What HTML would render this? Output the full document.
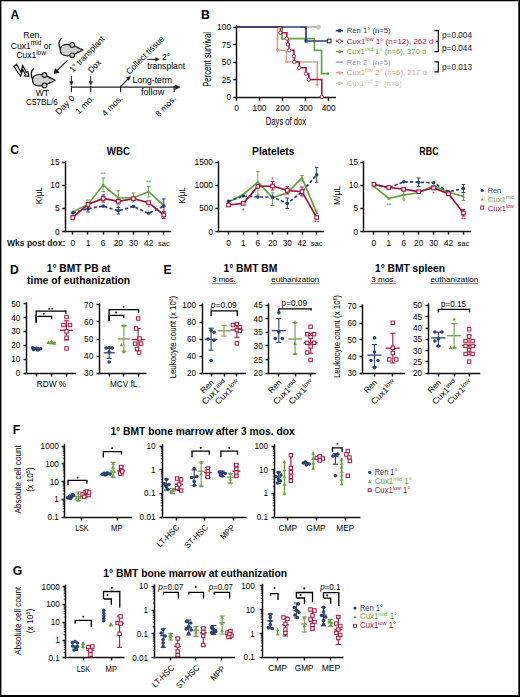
<!DOCTYPE html>
<html><head><meta charset="utf-8"><title>Figure</title>
<style>
html,body{margin:0;padding:0;background:#fff;}
body{width:520px;height:697px;overflow:hidden;}
svg{display:block;font-family:"Liberation Sans", sans-serif;}
</style></head><body>
<svg width="520" height="697" viewBox="0 0 520 697">
<rect x="0" y="0" width="520" height="697" fill="#000" stroke="none" stroke-width="1"/>
<rect x="1.4" y="1.3" width="516.9" height="693.7" fill="#fff" stroke="none" stroke-width="1"/>
<text x="10.6" y="18.5" font-size="12.2" font-weight="bold" fill="#000">A</text>
<text x="32.6" y="38.4" font-size="8.3" text-anchor="middle" textLength="18.5" lengthAdjust="spacingAndGlyphs">Ren,</text>
<text x="10.8" y="48.6" font-size="8.3" textLength="40.6" lengthAdjust="spacingAndGlyphs">Cux1<tspan font-size="6.3" dy="-3.4">mid</tspan><tspan dy="3.4"> or</tspan></text>
<text x="16.4" y="58.2" font-size="8.3" textLength="29.4" lengthAdjust="spacingAndGlyphs">Cux1<tspan font-size="6.3" dy="-3.4">low</tspan></text>
<g transform="translate(60 50.1) scale(1)">
<path d="M1.5,-11.8 C-0.6,-9.8 -2.6,-6.2 0.6,-0.6" stroke="#111" stroke-width="1.3" fill="none"/>
<path d="M0.2,0 C0.2,-3.4 3,-5.6 7,-5.7 C10,-5.8 12.5,-5.1 14.6,-4.1 C17.6,-2.7 20.6,-1.3 22.8,0 C20.6,1.3 17.6,2.7 14.6,4.1 C12.5,5.1 10,5.8 7,5.7 C3,5.6 0.2,3.4 0.2,0 Z" stroke="#151515" stroke-width="1.2" fill="#d0d0d0"/>
<circle cx="12.2" cy="-5.2" r="2.35" fill="#d0d0d0" stroke="#151515" stroke-width="1.1"/>
<circle cx="12.2" cy="5.2" r="2.35" fill="#d0d0d0" stroke="#151515" stroke-width="1.1"/>
<circle cx="17.6" cy="-2" r="0.75" fill="#222" stroke="none" stroke-width="1"/>
<circle cx="17.6" cy="2" r="0.75" fill="#222" stroke="none" stroke-width="1"/>
</g>
<g transform="translate(32.3 80.2) scale(1)">
<path d="M1.5,-11.8 C-0.6,-9.8 -2.6,-6.2 0.6,-0.6" stroke="#111" stroke-width="1.3" fill="none"/>
<path d="M0.2,0 C0.2,-3.4 3,-5.6 7,-5.7 C10,-5.8 12.5,-5.1 14.6,-4.1 C17.6,-2.7 20.6,-1.3 22.8,0 C20.6,1.3 17.6,2.7 14.6,4.1 C12.5,5.1 10,5.8 7,5.7 C3,5.6 0.2,3.4 0.2,0 Z" stroke="#151515" stroke-width="1.2" fill="#d0d0d0"/>
<circle cx="12.2" cy="-5.2" r="2.35" fill="#d0d0d0" stroke="#151515" stroke-width="1.1"/>
<circle cx="12.2" cy="5.2" r="2.35" fill="#d0d0d0" stroke="#151515" stroke-width="1.1"/>
<circle cx="17.6" cy="-2" r="0.75" fill="#222" stroke="none" stroke-width="1"/>
<circle cx="17.6" cy="2" r="0.75" fill="#222" stroke="none" stroke-width="1"/>
</g>
<line x1="67.5" y1="60.3" x2="56.5" y2="71.2" stroke="#111" stroke-width="1.1"/>
<path d="M54.3,73.4 L55.2,68.6 L59.1,72.5 Z" stroke="#111" stroke-width="0.6" fill="#111"/>
<path d="M14.0,66.6 L16.6,64.2 L21.0,72.4 L22.6,65.4 L26.4,72.4 L28.0,71.6 L28.9,76.3 L24.4,75.9 L25.6,74.7 L22.8,69.6 L20.6,76.3 Z" stroke="#111" stroke-width="1.15" fill="#fff" stroke-linejoin="miter"/>
<text x="42.4" y="95.6" font-size="8.3" text-anchor="middle" textLength="13.2" lengthAdjust="spacingAndGlyphs">WT</text>
<text x="41.9" y="104.8" font-size="8.3" text-anchor="middle" textLength="31.6" lengthAdjust="spacingAndGlyphs">C57BL/6</text>
<line x1="71.4" y1="87.2" x2="177.5" y2="87.2" stroke="#222" stroke-width="1.3"/>
<path d="M180.2,87.2 L175.3,84.9 L175.3,89.5 Z" stroke="#222" stroke-width="0.5" fill="#222"/>
<line x1="71.4" y1="85.7" x2="71.4" y2="92" stroke="#222" stroke-width="1.2"/>
<line x1="90.7" y1="85.7" x2="90.7" y2="92" stroke="#222" stroke-width="1.2"/>
<line x1="120.6" y1="85.7" x2="120.6" y2="92" stroke="#222" stroke-width="1.2"/>
<line x1="174.2" y1="85.7" x2="174.2" y2="92" stroke="#222" stroke-width="1.2"/>
<line x1="71.4" y1="76.2" x2="71.4" y2="82.5" stroke="#222" stroke-width="1"/>
<path d="M71.4,85.2 L69.6,81.6 L73.2,81.6 Z" stroke="#222" stroke-width="0.4" fill="#222"/>
<line x1="90.7" y1="76.2" x2="90.7" y2="82.5" stroke="#222" stroke-width="1"/>
<path d="M90.7,85.2 L88.9,81.6 L92.5,81.6 Z" stroke="#222" stroke-width="0.4" fill="#222"/>
<line x1="120.6" y1="86.6" x2="128" y2="79" stroke="#222" stroke-width="1.1"/>
<path d="M130.5,76.2 L126.2,77.6 L129.0,80.4 Z" stroke="#222" stroke-width="0.4" fill="#222"/>
<text x="72.9" y="72.9" font-size="8.6" textLength="46.5" lengthAdjust="spacingAndGlyphs" transform="rotate(-46 72.9 72.9)">1° transplant</text>
<text x="91.4" y="73.6" font-size="8.6" textLength="14.6" lengthAdjust="spacingAndGlyphs" transform="rotate(-46 91.4 73.6)">Dox</text>
<text x="129.4" y="74.9" font-size="8.6" textLength="50.2" lengthAdjust="spacingAndGlyphs" transform="rotate(-45 129.4 74.9)">Collect tissue</text>
<line x1="147.3" y1="59.3" x2="156.3" y2="59.3" stroke="#222" stroke-width="1.1"/>
<path d="M159.5,59.3 L155.6,57.4 L155.6,61.2 Z" stroke="#222" stroke-width="0.4" fill="#222"/>
<text x="162" y="60" font-size="8.6" textLength="8.2" lengthAdjust="spacingAndGlyphs">2°</text>
<text x="147.3" y="68.7" font-size="8.6" textLength="37.8" lengthAdjust="spacingAndGlyphs">transplant</text>
<text x="132.6" y="83" font-size="8.6" textLength="39.4" lengthAdjust="spacingAndGlyphs">Long-term</text>
<text x="140.9" y="94.6" font-size="8.6" textLength="23.4" lengthAdjust="spacingAndGlyphs">follow</text>
<text x="75.3" y="98.6" font-size="8.4" text-anchor="end" textLength="23.5" lengthAdjust="spacingAndGlyphs" transform="rotate(-45 75.3 98.6)">Day 0</text>
<text x="94.6" y="98.8" font-size="8.4" text-anchor="end" textLength="22.5" lengthAdjust="spacingAndGlyphs" transform="rotate(-45 94.6 98.8)">1 mo.</text>
<text x="123.3" y="98.8" font-size="8.4" text-anchor="end" textLength="25.5" lengthAdjust="spacingAndGlyphs" transform="rotate(-45 123.3 98.8)">4 mos.</text>
<text x="176.8" y="99.2" font-size="8.4" text-anchor="end" textLength="25.5" lengthAdjust="spacingAndGlyphs" transform="rotate(-45 176.8 99.2)">8 mos.</text>
<text x="200.9" y="18.7" font-size="12.2" font-weight="bold" fill="#000">B</text>
<line x1="236.5" y1="25" x2="236.5" y2="97.6" stroke="#111111" stroke-width="1.5"/>
<line x1="233.3" y1="27.5" x2="236.5" y2="27.5" stroke="#111111" stroke-width="1.5"/>
<text x="231.1" y="30.02" font-size="8.4" text-anchor="end">100</text>
<line x1="233.3" y1="44.5" x2="236.5" y2="44.5" stroke="#111111" stroke-width="1.5"/>
<text x="231.1" y="47.52" font-size="8.4" text-anchor="end">75</text>
<line x1="233.3" y1="62.5" x2="236.5" y2="62.5" stroke="#111111" stroke-width="1.5"/>
<text x="231.1" y="65.02" font-size="8.4" text-anchor="end">50</text>
<line x1="233.3" y1="79.5" x2="236.5" y2="79.5" stroke="#111111" stroke-width="1.5"/>
<text x="231.1" y="82.52" font-size="8.4" text-anchor="end">25</text>
<line x1="233.3" y1="97.5" x2="236.5" y2="97.5" stroke="#111111" stroke-width="1.5"/>
<text x="231.1" y="100.02" font-size="8.4" text-anchor="end">0</text>
<line x1="235.9" y1="97.5" x2="336" y2="97.5" stroke="#111111" stroke-width="1.5"/>
<line x1="236.5" y1="97.5" x2="236.5" y2="100.7" stroke="#111111" stroke-width="1.5"/>
<line x1="259.5" y1="97.5" x2="259.5" y2="100.7" stroke="#111111" stroke-width="1.5"/>
<line x1="282.5" y1="97.5" x2="282.5" y2="100.7" stroke="#111111" stroke-width="1.5"/>
<line x1="305.5" y1="97.5" x2="305.5" y2="100.7" stroke="#111111" stroke-width="1.5"/>
<line x1="328.5" y1="97.5" x2="328.5" y2="100.7" stroke="#111111" stroke-width="1.5"/>
<text x="236.5" y="111" font-size="8.4" text-anchor="middle">0</text>
<text x="259.55" y="111" font-size="8.4" text-anchor="middle">100</text>
<text x="282.6" y="111" font-size="8.4" text-anchor="middle">200</text>
<text x="305.65" y="111" font-size="8.4" text-anchor="middle">300</text>
<text x="328.7" y="111" font-size="8.4" text-anchor="middle">400</text>
<text x="286" y="125" font-size="10.8" text-anchor="middle" textLength="40.4" lengthAdjust="spacingAndGlyphs">Days of dox</text>
<text x="210.7" y="59.4" font-size="10.8" text-anchor="middle" textLength="54.7" lengthAdjust="spacingAndGlyphs" transform="rotate(-90 210.7 59.4)">Percent survival</text>
<path d="M236.5,27 H277.5 V50.31 H286.4 V62 H317.2 V85.31" stroke="#d8a493" stroke-width="1.6" fill="none"/>
<path d="M300,27 H317.5" stroke="#a8a8b4" stroke-width="1.6" fill="none"/>
<circle cx="318.5" cy="27.3" r="2.2" fill="#c3cfb3" stroke="#c3cfb3" stroke-width="0.5"/>
<path d="M236.5,27 H282.2 V38.69 H314.4 V50.31 H321.6 V73.69 H328.5" stroke="#66a342" stroke-width="1.7" fill="none"/>
<path d="M236.5,27 H280.4 V32.81 H286.8 V38.69 H287.9 V44.5 H289.2 V50.31 H294 V56.19 H294.4 V62 H299.3 V67.81 H306 V73.69 H308.8 V79.5 H321.8 V97" stroke="#a3163f" stroke-width="1.6" fill="none"/>
<path d="M236,27 H306.0 V41 H329.2" stroke="#29426f" stroke-width="1.7" fill="none"/>
<polygon points="277.5,40.53 275.8,37.47 279.2,37.47" fill="#d8a493" stroke="none" stroke-width="1"/>
<polygon points="277.5,52.15 275.8,49.09 279.2,49.09" fill="#d8a493" stroke="none" stroke-width="1"/>
<polygon points="286.4,63.84 284.7,60.78 288.1,60.78" fill="#d8a493" stroke="none" stroke-width="1"/>
<polygon points="317.2,87.15 315.5,84.09 318.9,84.09" fill="#d8a493" stroke="none" stroke-width="1"/>
<polygon points="279.5,30.23 277.9,27.35 281.1,27.35" fill="#d8a493" stroke="none" stroke-width="1"/>
<circle cx="280.4" cy="32.81" r="1.7" fill="#fff" stroke="#a3163f" stroke-width="0.9"/>
<circle cx="286.8" cy="38.69" r="1.7" fill="#fff" stroke="#a3163f" stroke-width="0.9"/>
<circle cx="287.9" cy="44.5" r="1.7" fill="#fff" stroke="#a3163f" stroke-width="0.9"/>
<circle cx="289.2" cy="50.31" r="1.7" fill="#fff" stroke="#a3163f" stroke-width="0.9"/>
<circle cx="294" cy="56.19" r="1.7" fill="#fff" stroke="#a3163f" stroke-width="0.9"/>
<circle cx="294.4" cy="62" r="1.7" fill="#fff" stroke="#a3163f" stroke-width="0.9"/>
<circle cx="299.3" cy="67.81" r="1.7" fill="#fff" stroke="#a3163f" stroke-width="0.9"/>
<circle cx="306" cy="73.69" r="1.7" fill="#fff" stroke="#a3163f" stroke-width="0.9"/>
<circle cx="308.8" cy="79.5" r="1.7" fill="#fff" stroke="#a3163f" stroke-width="0.9"/>
<circle cx="321.8" cy="97" r="1.7" fill="#fff" stroke="#a3163f" stroke-width="0.9"/>
<rect x="304.4" y="39.4" width="3.2" height="3.2" fill="#29426f" stroke="none" stroke-width="1"/>
<rect x="327.4" y="39.2" width="3.6" height="3.6" fill="#fff" stroke="#3a3f55" stroke-width="1.2"/>
<circle cx="282.2" cy="38.69" r="1.2" fill="#66a342" stroke="none" stroke-width="1"/>
<circle cx="328" cy="73.69" r="1.4" fill="#66a342" stroke="none" stroke-width="1"/>
<line x1="335.8" y1="30.7" x2="343.2" y2="30.7" stroke="#29426f" stroke-width="1.4"/>
<rect x="337.8" y="29.1" width="3.2" height="3.2" fill="#29426f" stroke="none" stroke-width="1"/>
<text x="346.8" y="33.4" font-size="7.7" fill="#29426f" textLength="43.8" lengthAdjust="spacingAndGlyphs">Ren 1° (n=5)</text>
<line x1="335.8" y1="41.2" x2="343.2" y2="41.2" stroke="#a3163f" stroke-width="1.4"/>
<path d="M339.5,39 l2.2,2.2 l-2.2,2.2 l-2.2,-2.2 Z" stroke="#a3163f" stroke-width="0.9" fill="#fff"/>
<text x="346.8" y="43.9" font-size="7.7" fill="#a3163f" textLength="86.6" lengthAdjust="spacingAndGlyphs">Cux1<tspan font-size="5.2" dy="-3">low</tspan><tspan dy="3"> 1° (n=12), 262 d</tspan></text>
<line x1="335.8" y1="51.7" x2="343.2" y2="51.7" stroke="#66a342" stroke-width="1.4"/>
<circle cx="339.5" cy="51.7" r="1.5" fill="#66a342" stroke="none" stroke-width="1"/>
<text x="346.8" y="54.4" font-size="7.7" fill="#66a342" textLength="79.5" lengthAdjust="spacingAndGlyphs">Cux1<tspan font-size="5.2" dy="-3">mid</tspan><tspan dy="3"> 1° (n=6), 370 d</tspan></text>
<line x1="335.8" y1="62.2" x2="343.2" y2="62.2" stroke="#9c9cbc" stroke-width="1.4"/>
<text x="346.8" y="64.9" font-size="7.7" fill="#9c9cbc" textLength="43.8" lengthAdjust="spacingAndGlyphs">Ren 2° (n=5)</text>
<line x1="335.8" y1="72.7" x2="343.2" y2="72.7" stroke="#d8a493" stroke-width="1.4"/>
<polygon points="339.5,74.64 337.7,71.4 341.3,71.4" fill="#d8a493" stroke="none" stroke-width="1"/>
<text x="346.8" y="75.4" font-size="7.7" fill="#d8a493" textLength="80" lengthAdjust="spacingAndGlyphs">Cux1<tspan font-size="5.2" dy="-3">low</tspan><tspan dy="3"> 2° (n=6), 217 d</tspan></text>
<line x1="335.8" y1="83.2" x2="343.2" y2="83.2" stroke="#c3cfb3" stroke-width="1.4"/>
<circle cx="339.5" cy="83.2" r="1.8" fill="#c3cfb3" stroke="none" stroke-width="1"/>
<text x="346.8" y="85.9" font-size="7.7" fill="#c3cfb3" textLength="55" lengthAdjust="spacingAndGlyphs">Cux1<tspan font-size="5.2" dy="-3">mid</tspan><tspan dy="3"> 2° (n=8)</tspan></text>
<path d="M434.4,30.6 H438.3 V51.7 H434.4" stroke="#111" stroke-width="1.2" fill="none"/>
<line x1="436" y1="41.3" x2="438.3" y2="41.3" stroke="#111" stroke-width="1.2"/>
<path d="M434.4,61.9 H438.3 V71.9 H434.4" stroke="#111" stroke-width="1.2" fill="none"/>
<text x="442" y="38.3" font-size="8.4" fill="#222" textLength="30" lengthAdjust="spacingAndGlyphs">p=0.004</text>
<text x="442" y="50.8" font-size="8.4" fill="#222" textLength="30" lengthAdjust="spacingAndGlyphs">p=0.044</text>
<text x="442" y="69.6" font-size="8.4" fill="#222" textLength="30" lengthAdjust="spacingAndGlyphs">p=0.013</text>
<text x="10.2" y="153.6" font-size="12.2" font-weight="bold" fill="#000">C</text>
<line x1="65.5" y1="160.9" x2="65.5" y2="232.2" stroke="#111111" stroke-width="1.5"/>
<line x1="62.3" y1="231.5" x2="65.5" y2="231.5" stroke="#111111" stroke-width="1.5"/>
<text x="59.5" y="234.59" font-size="8.3" text-anchor="end">0</text>
<line x1="62.3" y1="208.5" x2="65.5" y2="208.5" stroke="#111111" stroke-width="1.5"/>
<text x="59.5" y="211.49" font-size="8.3" text-anchor="end">5</text>
<line x1="62.3" y1="185.5" x2="65.5" y2="185.5" stroke="#111111" stroke-width="1.5"/>
<text x="59.5" y="188.39" font-size="8.3" text-anchor="end">10</text>
<line x1="62.3" y1="162.5" x2="65.5" y2="162.5" stroke="#111111" stroke-width="1.5"/>
<text x="59.5" y="165.39" font-size="8.3" text-anchor="end">15</text>
<line x1="64.8" y1="231.5" x2="171.32" y2="231.5" stroke="#111111" stroke-width="1.5"/>
<line x1="72.5" y1="231.5" x2="72.5" y2="234.5" stroke="#111111" stroke-width="1.5"/>
<line x1="87.5" y1="231.5" x2="87.5" y2="234.5" stroke="#111111" stroke-width="1.5"/>
<line x1="103.5" y1="231.5" x2="103.5" y2="234.5" stroke="#111111" stroke-width="1.5"/>
<line x1="118.5" y1="231.5" x2="118.5" y2="234.5" stroke="#111111" stroke-width="1.5"/>
<line x1="133.5" y1="231.5" x2="133.5" y2="234.5" stroke="#111111" stroke-width="1.5"/>
<line x1="148.5" y1="231.5" x2="148.5" y2="234.5" stroke="#111111" stroke-width="1.5"/>
<line x1="163.5" y1="231.5" x2="163.5" y2="234.5" stroke="#111111" stroke-width="1.5"/>
<text x="72.8" y="245.6" font-size="8.3" text-anchor="middle">0</text>
<text x="87.97" y="245.6" font-size="8.3" text-anchor="middle">1</text>
<text x="103.14" y="245.6" font-size="8.3" text-anchor="middle">6</text>
<text x="118.31" y="245.6" font-size="8.3" text-anchor="middle">20</text>
<text x="133.48" y="245.6" font-size="8.3" text-anchor="middle">30</text>
<text x="148.65" y="245.6" font-size="8.3" text-anchor="middle">42</text>
<text x="163.82" y="245.6" font-size="7.6" text-anchor="middle">sac</text>
<text x="42" y="195.5" font-size="9" text-anchor="middle" textLength="17.3" lengthAdjust="spacingAndGlyphs" transform="rotate(-90 42 195.5)">K/μL</text>
<text x="118.5" y="154.5" font-size="10.2" text-anchor="middle" font-weight="bold" fill="#000" textLength="23.3" lengthAdjust="spacingAndGlyphs">WBC</text>
<polyline points="72.8,212 87.97,204.4 103.14,185 118.31,198 133.48,197.7 148.65,191.7 163.82,205.5" fill="none" stroke="#66a342" stroke-width="1.7"/>
<line x1="103.14" y1="178" x2="103.14" y2="191.7" stroke="#7a9a5a" stroke-width="1"/>
<line x1="101.34" y1="178" x2="104.94" y2="178" stroke="#7a9a5a" stroke-width="1"/>
<line x1="101.34" y1="191.7" x2="104.94" y2="191.7" stroke="#7a9a5a" stroke-width="1"/>
<line x1="118.31" y1="190.7" x2="118.31" y2="204.4" stroke="#7a9a5a" stroke-width="1"/>
<line x1="116.51" y1="190.7" x2="120.11" y2="190.7" stroke="#7a9a5a" stroke-width="1"/>
<line x1="116.51" y1="204.4" x2="120.11" y2="204.4" stroke="#7a9a5a" stroke-width="1"/>
<line x1="148.65" y1="186.4" x2="148.65" y2="197" stroke="#7a9a5a" stroke-width="1"/>
<line x1="146.85" y1="186.4" x2="150.45" y2="186.4" stroke="#7a9a5a" stroke-width="1"/>
<line x1="146.85" y1="197" x2="150.45" y2="197" stroke="#7a9a5a" stroke-width="1"/>
<line x1="87.97" y1="200" x2="87.97" y2="209" stroke="#7a9a5a" stroke-width="1"/>
<line x1="86.17" y1="200" x2="89.77" y2="200" stroke="#7a9a5a" stroke-width="1"/>
<line x1="86.17" y1="209" x2="89.77" y2="209" stroke="#7a9a5a" stroke-width="1"/>
<line x1="133.48" y1="193" x2="133.48" y2="202" stroke="#7a9a5a" stroke-width="1"/>
<line x1="131.68" y1="193" x2="135.28" y2="193" stroke="#7a9a5a" stroke-width="1"/>
<line x1="131.68" y1="202" x2="135.28" y2="202" stroke="#7a9a5a" stroke-width="1"/>
<polygon points="72.8,210.16 71.1,213.22 74.5,213.22" fill="#66a342" stroke="none" stroke-width="1"/>
<polygon points="87.97,202.56 86.27,205.62 89.67,205.62" fill="#66a342" stroke="none" stroke-width="1"/>
<polygon points="103.14,183.16 101.44,186.22 104.84,186.22" fill="#66a342" stroke="none" stroke-width="1"/>
<polygon points="118.31,196.16 116.61,199.22 120.01,199.22" fill="#66a342" stroke="none" stroke-width="1"/>
<polygon points="133.48,195.86 131.78,198.92 135.18,198.92" fill="#66a342" stroke="none" stroke-width="1"/>
<polygon points="148.65,189.86 146.95,192.92 150.35,192.92" fill="#66a342" stroke="none" stroke-width="1"/>
<polygon points="163.82,203.66 162.12,206.72 165.52,206.72" fill="#66a342" stroke="none" stroke-width="1"/>
<text x="103.14" y="177.3" font-size="6.5" text-anchor="middle" fill="#66a342">**</text>
<text x="148.65" y="184.7" font-size="6.5" text-anchor="middle" fill="#66a342">**</text>
<polyline points="72.8,212.9 87.97,208.7 103.14,206.1 118.31,210.8 133.48,206.5 148.65,213.3 163.82,206.1" fill="none" stroke="#29426f" stroke-width="1.7" stroke-dasharray="3.2,2.2"/>
<line x1="163.82" y1="199" x2="163.82" y2="212" stroke="#29426f" stroke-width="1"/>
<line x1="162.02" y1="199" x2="165.62" y2="199" stroke="#29426f" stroke-width="1"/>
<line x1="162.02" y1="212" x2="165.62" y2="212" stroke="#29426f" stroke-width="1"/>
<line x1="87.97" y1="205.5" x2="87.97" y2="212" stroke="#29426f" stroke-width="1"/>
<line x1="86.17" y1="205.5" x2="89.77" y2="205.5" stroke="#29426f" stroke-width="1"/>
<line x1="86.17" y1="212" x2="89.77" y2="212" stroke="#29426f" stroke-width="1"/>
<line x1="118.31" y1="207.5" x2="118.31" y2="214" stroke="#29426f" stroke-width="1"/>
<line x1="116.51" y1="207.5" x2="120.11" y2="207.5" stroke="#29426f" stroke-width="1"/>
<line x1="116.51" y1="214" x2="120.11" y2="214" stroke="#29426f" stroke-width="1"/>
<circle cx="72.8" cy="212.9" r="1.8" fill="#29426f" stroke="none" stroke-width="1"/>
<circle cx="87.97" cy="208.7" r="1.8" fill="#29426f" stroke="none" stroke-width="1"/>
<circle cx="103.14" cy="206.1" r="1.8" fill="#29426f" stroke="none" stroke-width="1"/>
<circle cx="118.31" cy="210.8" r="1.8" fill="#29426f" stroke="none" stroke-width="1"/>
<circle cx="133.48" cy="206.5" r="1.8" fill="#29426f" stroke="none" stroke-width="1"/>
<circle cx="148.65" cy="213.3" r="1.8" fill="#29426f" stroke="none" stroke-width="1"/>
<circle cx="163.82" cy="206.1" r="1.8" fill="#29426f" stroke="none" stroke-width="1"/>
<polyline points="72.8,217.5 87.97,204.4 103.14,198.5 118.31,201.3 133.48,198.7 148.65,202.7 163.82,215" fill="none" stroke="#a3163f" stroke-width="1.7"/>
<line x1="103.14" y1="195" x2="103.14" y2="202" stroke="#a3163f" stroke-width="1"/>
<line x1="101.34" y1="195" x2="104.94" y2="195" stroke="#a3163f" stroke-width="1"/>
<line x1="101.34" y1="202" x2="104.94" y2="202" stroke="#a3163f" stroke-width="1"/>
<line x1="163.82" y1="211.5" x2="163.82" y2="218.5" stroke="#a3163f" stroke-width="1"/>
<line x1="162.02" y1="211.5" x2="165.62" y2="211.5" stroke="#a3163f" stroke-width="1"/>
<line x1="162.02" y1="218.5" x2="165.62" y2="218.5" stroke="#a3163f" stroke-width="1"/>
<rect x="71" y="215.7" width="3.6" height="3.6" fill="#fff" stroke="#a3163f" stroke-width="1.1"/>
<rect x="86.17" y="202.6" width="3.6" height="3.6" fill="#fff" stroke="#a3163f" stroke-width="1.1"/>
<rect x="101.34" y="196.7" width="3.6" height="3.6" fill="#fff" stroke="#a3163f" stroke-width="1.1"/>
<rect x="116.51" y="199.5" width="3.6" height="3.6" fill="#fff" stroke="#a3163f" stroke-width="1.1"/>
<rect x="131.68" y="196.9" width="3.6" height="3.6" fill="#fff" stroke="#a3163f" stroke-width="1.1"/>
<rect x="146.85" y="200.9" width="3.6" height="3.6" fill="#fff" stroke="#a3163f" stroke-width="1.1"/>
<rect x="162.02" y="213.2" width="3.6" height="3.6" fill="#fff" stroke="#a3163f" stroke-width="1.1"/>
<text x="118.31" y="210" font-size="6.5" text-anchor="middle" fill="#a3163f">*</text>
<text x="148.65" y="210" font-size="6.5" text-anchor="middle" fill="#a3163f">*</text>
<text x="7" y="245.6" font-size="9.4" font-weight="bold" fill="#111" textLength="58.3" lengthAdjust="spacingAndGlyphs">Wks post dox:</text>
<line x1="218.5" y1="160.9" x2="218.5" y2="232.2" stroke="#111111" stroke-width="1.5"/>
<line x1="215.3" y1="231.5" x2="218.5" y2="231.5" stroke="#111111" stroke-width="1.5"/>
<text x="213" y="234.59" font-size="8.3" text-anchor="end">0</text>
<line x1="215.3" y1="208.5" x2="218.5" y2="208.5" stroke="#111111" stroke-width="1.5"/>
<text x="213" y="211.49" font-size="8.3" text-anchor="end">500</text>
<line x1="215.3" y1="185.5" x2="218.5" y2="185.5" stroke="#111111" stroke-width="1.5"/>
<text x="213" y="188.39" font-size="8.3" text-anchor="end">1000</text>
<line x1="215.3" y1="162.5" x2="218.5" y2="162.5" stroke="#111111" stroke-width="1.5"/>
<text x="213" y="165.39" font-size="8.3" text-anchor="end">1500</text>
<line x1="218.3" y1="231.5" x2="324.2" y2="231.5" stroke="#111111" stroke-width="1.5"/>
<line x1="228.5" y1="231.5" x2="228.5" y2="234.5" stroke="#111111" stroke-width="1.5"/>
<line x1="243.5" y1="231.5" x2="243.5" y2="234.5" stroke="#111111" stroke-width="1.5"/>
<line x1="257.5" y1="231.5" x2="257.5" y2="234.5" stroke="#111111" stroke-width="1.5"/>
<line x1="272.5" y1="231.5" x2="272.5" y2="234.5" stroke="#111111" stroke-width="1.5"/>
<line x1="287.5" y1="231.5" x2="287.5" y2="234.5" stroke="#111111" stroke-width="1.5"/>
<line x1="302.5" y1="231.5" x2="302.5" y2="234.5" stroke="#111111" stroke-width="1.5"/>
<line x1="316.5" y1="231.5" x2="316.5" y2="234.5" stroke="#111111" stroke-width="1.5"/>
<text x="228.5" y="245.6" font-size="8.3" text-anchor="middle">0</text>
<text x="243.2" y="245.6" font-size="8.3" text-anchor="middle">1</text>
<text x="257.9" y="245.6" font-size="8.3" text-anchor="middle">6</text>
<text x="272.6" y="245.6" font-size="8.3" text-anchor="middle">20</text>
<text x="287.3" y="245.6" font-size="8.3" text-anchor="middle">30</text>
<text x="302" y="245.6" font-size="8.3" text-anchor="middle">42</text>
<text x="316.7" y="245.6" font-size="7.6" text-anchor="middle">sac</text>
<text x="185" y="195.5" font-size="9" text-anchor="middle" textLength="16.5" lengthAdjust="spacingAndGlyphs" transform="rotate(-90 185 195.5)">K/μL</text>
<text x="273.2" y="154.5" font-size="10.2" text-anchor="middle" font-weight="bold" fill="#000" textLength="42.3" lengthAdjust="spacingAndGlyphs">Platelets</text>
<polyline points="228.5,202.3 243.2,194.5 257.9,182.2 272.6,197.7 287.3,192.8 302,178 316.7,212.9" fill="none" stroke="#66a342" stroke-width="1.7"/>
<line x1="257.9" y1="171.6" x2="257.9" y2="195" stroke="#7a9a5a" stroke-width="1"/>
<line x1="256.1" y1="171.6" x2="259.7" y2="171.6" stroke="#7a9a5a" stroke-width="1"/>
<line x1="256.1" y1="195" x2="259.7" y2="195" stroke="#7a9a5a" stroke-width="1"/>
<line x1="272.6" y1="192.8" x2="272.6" y2="205.5" stroke="#7a9a5a" stroke-width="1"/>
<line x1="270.8" y1="192.8" x2="274.4" y2="192.8" stroke="#7a9a5a" stroke-width="1"/>
<line x1="270.8" y1="205.5" x2="274.4" y2="205.5" stroke="#7a9a5a" stroke-width="1"/>
<line x1="302" y1="175.5" x2="302" y2="181" stroke="#7a9a5a" stroke-width="1"/>
<line x1="300.2" y1="175.5" x2="303.8" y2="175.5" stroke="#7a9a5a" stroke-width="1"/>
<line x1="300.2" y1="181" x2="303.8" y2="181" stroke="#7a9a5a" stroke-width="1"/>
<polygon points="228.5,200.46 226.8,203.52 230.2,203.52" fill="#66a342" stroke="none" stroke-width="1"/>
<polygon points="243.2,192.66 241.5,195.72 244.9,195.72" fill="#66a342" stroke="none" stroke-width="1"/>
<polygon points="257.9,180.36 256.2,183.42 259.6,183.42" fill="#66a342" stroke="none" stroke-width="1"/>
<polygon points="272.6,195.86 270.9,198.92 274.3,198.92" fill="#66a342" stroke="none" stroke-width="1"/>
<polygon points="287.3,190.96 285.6,194.02 289,194.02" fill="#66a342" stroke="none" stroke-width="1"/>
<polygon points="302,176.16 300.3,179.22 303.7,179.22" fill="#66a342" stroke="none" stroke-width="1"/>
<polygon points="316.7,211.06 315,214.12 318.4,214.12" fill="#66a342" stroke="none" stroke-width="1"/>
<text x="316.7" y="214" font-size="6.5" text-anchor="middle" fill="#66a342">*</text>
<polyline points="228.5,201.3 243.2,196 257.9,197 272.6,197 287.3,203.4 302,191.7 316.7,174.8" fill="none" stroke="#29426f" stroke-width="1.7" stroke-dasharray="3.2,2.2"/>
<line x1="316.7" y1="167.4" x2="316.7" y2="182.2" stroke="#29426f" stroke-width="1"/>
<line x1="314.9" y1="167.4" x2="318.5" y2="167.4" stroke="#29426f" stroke-width="1"/>
<line x1="314.9" y1="182.2" x2="318.5" y2="182.2" stroke="#29426f" stroke-width="1"/>
<line x1="287.3" y1="198" x2="287.3" y2="208.5" stroke="#29426f" stroke-width="1"/>
<line x1="285.5" y1="198" x2="289.1" y2="198" stroke="#29426f" stroke-width="1"/>
<line x1="285.5" y1="208.5" x2="289.1" y2="208.5" stroke="#29426f" stroke-width="1"/>
<circle cx="228.5" cy="201.3" r="1.8" fill="#29426f" stroke="none" stroke-width="1"/>
<circle cx="243.2" cy="196" r="1.8" fill="#29426f" stroke="none" stroke-width="1"/>
<circle cx="257.9" cy="197" r="1.8" fill="#29426f" stroke="none" stroke-width="1"/>
<circle cx="272.6" cy="197" r="1.8" fill="#29426f" stroke="none" stroke-width="1"/>
<circle cx="287.3" cy="203.4" r="1.8" fill="#29426f" stroke="none" stroke-width="1"/>
<circle cx="302" cy="191.7" r="1.8" fill="#29426f" stroke="none" stroke-width="1"/>
<circle cx="316.7" cy="174.8" r="1.8" fill="#29426f" stroke="none" stroke-width="1"/>
<polyline points="228.5,205 243.2,203.4 257.9,186.4 272.6,186 287.3,190.3 302,191.7 316.7,217.5" fill="none" stroke="#a3163f" stroke-width="1.7"/>
<line x1="272.6" y1="181.5" x2="272.6" y2="190" stroke="#a3163f" stroke-width="1"/>
<line x1="270.8" y1="181.5" x2="274.4" y2="181.5" stroke="#a3163f" stroke-width="1"/>
<line x1="270.8" y1="190" x2="274.4" y2="190" stroke="#a3163f" stroke-width="1"/>
<line x1="287.3" y1="186.5" x2="287.3" y2="194" stroke="#a3163f" stroke-width="1"/>
<line x1="285.5" y1="186.5" x2="289.1" y2="186.5" stroke="#a3163f" stroke-width="1"/>
<line x1="285.5" y1="194" x2="289.1" y2="194" stroke="#a3163f" stroke-width="1"/>
<line x1="302" y1="187" x2="302" y2="196" stroke="#a3163f" stroke-width="1"/>
<line x1="300.2" y1="187" x2="303.8" y2="187" stroke="#a3163f" stroke-width="1"/>
<line x1="300.2" y1="196" x2="303.8" y2="196" stroke="#a3163f" stroke-width="1"/>
<rect x="226.7" y="203.2" width="3.6" height="3.6" fill="#fff" stroke="#a3163f" stroke-width="1.1"/>
<rect x="241.4" y="201.6" width="3.6" height="3.6" fill="#fff" stroke="#a3163f" stroke-width="1.1"/>
<rect x="256.1" y="184.6" width="3.6" height="3.6" fill="#fff" stroke="#a3163f" stroke-width="1.1"/>
<rect x="270.8" y="184.2" width="3.6" height="3.6" fill="#fff" stroke="#a3163f" stroke-width="1.1"/>
<rect x="285.5" y="188.5" width="3.6" height="3.6" fill="#fff" stroke="#a3163f" stroke-width="1.1"/>
<rect x="300.2" y="189.9" width="3.6" height="3.6" fill="#fff" stroke="#a3163f" stroke-width="1.1"/>
<rect x="314.9" y="215.7" width="3.6" height="3.6" fill="#fff" stroke="#a3163f" stroke-width="1.1"/>
<text x="243.2" y="212.5" font-size="6.5" text-anchor="middle" fill="#a3163f">*</text>
<text x="272.6" y="181.5" font-size="6.5" text-anchor="middle" fill="#a3163f">*</text>
<text x="316.7" y="224.6" font-size="6.5" text-anchor="middle" fill="#a3163f">**</text>
<line x1="363.5" y1="160.9" x2="363.5" y2="232.2" stroke="#111111" stroke-width="1.5"/>
<line x1="360.3" y1="231.5" x2="363.5" y2="231.5" stroke="#111111" stroke-width="1.5"/>
<text x="358" y="234.59" font-size="8.3" text-anchor="end">0</text>
<line x1="360.3" y1="208.5" x2="363.5" y2="208.5" stroke="#111111" stroke-width="1.5"/>
<text x="358" y="211.49" font-size="8.3" text-anchor="end">5</text>
<line x1="360.3" y1="185.5" x2="363.5" y2="185.5" stroke="#111111" stroke-width="1.5"/>
<text x="358" y="188.39" font-size="8.3" text-anchor="end">10</text>
<line x1="360.3" y1="162.5" x2="363.5" y2="162.5" stroke="#111111" stroke-width="1.5"/>
<text x="358" y="165.39" font-size="8.3" text-anchor="end">15</text>
<line x1="363.3" y1="231.5" x2="470.92" y2="231.5" stroke="#111111" stroke-width="1.5"/>
<line x1="373.5" y1="231.5" x2="373.5" y2="234.5" stroke="#111111" stroke-width="1.5"/>
<line x1="388.5" y1="231.5" x2="388.5" y2="234.5" stroke="#111111" stroke-width="1.5"/>
<line x1="403.5" y1="231.5" x2="403.5" y2="234.5" stroke="#111111" stroke-width="1.5"/>
<line x1="418.5" y1="231.5" x2="418.5" y2="234.5" stroke="#111111" stroke-width="1.5"/>
<line x1="433.5" y1="231.5" x2="433.5" y2="234.5" stroke="#111111" stroke-width="1.5"/>
<line x1="448.5" y1="231.5" x2="448.5" y2="234.5" stroke="#111111" stroke-width="1.5"/>
<line x1="463.5" y1="231.5" x2="463.5" y2="234.5" stroke="#111111" stroke-width="1.5"/>
<text x="373.9" y="245.6" font-size="8.3" text-anchor="middle">0</text>
<text x="388.82" y="245.6" font-size="8.3" text-anchor="middle">1</text>
<text x="403.74" y="245.6" font-size="8.3" text-anchor="middle">6</text>
<text x="418.66" y="245.6" font-size="8.3" text-anchor="middle">20</text>
<text x="433.58" y="245.6" font-size="8.3" text-anchor="middle">30</text>
<text x="448.5" y="245.6" font-size="8.3" text-anchor="middle">42</text>
<text x="463.42" y="245.6" font-size="7.6" text-anchor="middle">sac</text>
<text x="339.8" y="195.5" font-size="9.6" text-anchor="middle" textLength="19" lengthAdjust="spacingAndGlyphs" transform="rotate(-90 339.8 195.5)">M/μL</text>
<text x="429" y="154.5" font-size="10.2" text-anchor="middle" font-weight="bold" fill="#000" textLength="19.3" lengthAdjust="spacingAndGlyphs">RBC</text>
<polyline points="373.9,186.4 388.82,198.5 403.74,194.9 418.66,192.8 433.58,185.8 448.5,192.2 463.42,196.4" fill="none" stroke="#66a342" stroke-width="1.7"/>
<line x1="403.74" y1="191" x2="403.74" y2="199" stroke="#7a9a5a" stroke-width="1"/>
<line x1="401.94" y1="191" x2="405.54" y2="191" stroke="#7a9a5a" stroke-width="1"/>
<line x1="401.94" y1="199" x2="405.54" y2="199" stroke="#7a9a5a" stroke-width="1"/>
<line x1="463.42" y1="192.5" x2="463.42" y2="200.5" stroke="#7a9a5a" stroke-width="1"/>
<line x1="461.62" y1="192.5" x2="465.22" y2="192.5" stroke="#7a9a5a" stroke-width="1"/>
<line x1="461.62" y1="200.5" x2="465.22" y2="200.5" stroke="#7a9a5a" stroke-width="1"/>
<polygon points="373.9,184.56 372.2,187.62 375.6,187.62" fill="#66a342" stroke="none" stroke-width="1"/>
<polygon points="388.82,196.66 387.12,199.72 390.52,199.72" fill="#66a342" stroke="none" stroke-width="1"/>
<polygon points="403.74,193.06 402.04,196.12 405.44,196.12" fill="#66a342" stroke="none" stroke-width="1"/>
<polygon points="418.66,190.96 416.96,194.02 420.36,194.02" fill="#66a342" stroke="none" stroke-width="1"/>
<polygon points="433.58,183.96 431.88,187.02 435.28,187.02" fill="#66a342" stroke="none" stroke-width="1"/>
<polygon points="448.5,190.36 446.8,193.42 450.2,193.42" fill="#66a342" stroke="none" stroke-width="1"/>
<polygon points="463.42,194.56 461.72,197.62 465.12,197.62" fill="#66a342" stroke="none" stroke-width="1"/>
<text x="388.82" y="208" font-size="6.5" text-anchor="middle" fill="#66a342">**</text>
<text x="403.74" y="203.6" font-size="6.5" text-anchor="middle" fill="#66a342">*</text>
<text x="418.66" y="201.5" font-size="6.5" text-anchor="middle" fill="#66a342">*</text>
<polyline points="373.9,184.3 388.82,187.9 403.74,181.8 418.66,182.2 433.58,182.8 448.5,191.7 463.42,188.6" fill="none" stroke="#29426f" stroke-width="1.7" stroke-dasharray="3.2,2.2"/>
<line x1="418.66" y1="178" x2="418.66" y2="186.5" stroke="#29426f" stroke-width="1"/>
<line x1="416.86" y1="178" x2="420.46" y2="178" stroke="#29426f" stroke-width="1"/>
<line x1="416.86" y1="186.5" x2="420.46" y2="186.5" stroke="#29426f" stroke-width="1"/>
<line x1="463.42" y1="184.5" x2="463.42" y2="192.5" stroke="#29426f" stroke-width="1"/>
<line x1="461.62" y1="184.5" x2="465.22" y2="184.5" stroke="#29426f" stroke-width="1"/>
<line x1="461.62" y1="192.5" x2="465.22" y2="192.5" stroke="#29426f" stroke-width="1"/>
<circle cx="373.9" cy="184.3" r="1.8" fill="#29426f" stroke="none" stroke-width="1"/>
<circle cx="388.82" cy="187.9" r="1.8" fill="#29426f" stroke="none" stroke-width="1"/>
<circle cx="403.74" cy="181.8" r="1.8" fill="#29426f" stroke="none" stroke-width="1"/>
<circle cx="418.66" cy="182.2" r="1.8" fill="#29426f" stroke="none" stroke-width="1"/>
<circle cx="433.58" cy="182.8" r="1.8" fill="#29426f" stroke="none" stroke-width="1"/>
<circle cx="448.5" cy="191.7" r="1.8" fill="#29426f" stroke="none" stroke-width="1"/>
<circle cx="463.42" cy="188.6" r="1.8" fill="#29426f" stroke="none" stroke-width="1"/>
<polyline points="373.9,184.3 388.82,187.5 403.74,189.2 418.66,191.7 433.58,187.9 448.5,193.8 463.42,212.9" fill="none" stroke="#a3163f" stroke-width="1.7"/>
<line x1="463.42" y1="209.5" x2="463.42" y2="216" stroke="#a3163f" stroke-width="1"/>
<line x1="461.62" y1="209.5" x2="465.22" y2="209.5" stroke="#a3163f" stroke-width="1"/>
<line x1="461.62" y1="216" x2="465.22" y2="216" stroke="#a3163f" stroke-width="1"/>
<rect x="372.1" y="182.5" width="3.6" height="3.6" fill="#fff" stroke="#a3163f" stroke-width="1.1"/>
<rect x="387.02" y="185.7" width="3.6" height="3.6" fill="#fff" stroke="#a3163f" stroke-width="1.1"/>
<rect x="401.94" y="187.4" width="3.6" height="3.6" fill="#fff" stroke="#a3163f" stroke-width="1.1"/>
<rect x="416.86" y="189.9" width="3.6" height="3.6" fill="#fff" stroke="#a3163f" stroke-width="1.1"/>
<rect x="431.78" y="186.1" width="3.6" height="3.6" fill="#fff" stroke="#a3163f" stroke-width="1.1"/>
<rect x="446.7" y="192" width="3.6" height="3.6" fill="#fff" stroke="#a3163f" stroke-width="1.1"/>
<rect x="461.62" y="211.1" width="3.6" height="3.6" fill="#fff" stroke="#a3163f" stroke-width="1.1"/>
<text x="433.58" y="196" font-size="6.5" text-anchor="middle" fill="#a3163f">*</text>
<text x="463.42" y="221.6" font-size="6.5" text-anchor="middle" fill="#a3163f">**</text>
<circle cx="482.2" cy="190.5" r="1.6" fill="#29426f" stroke="none" stroke-width="1"/>
<text x="487.7" y="192.8" font-size="7.6" fill="#29426f" textLength="13.3" lengthAdjust="spacingAndGlyphs">Ren</text>
<polygon points="482.2,197.67 480.6,200.55 483.8,200.55" fill="#66a342" stroke="none" stroke-width="1"/>
<text x="487.7" y="201.5" font-size="7.6" fill="#66a342" textLength="26.5" lengthAdjust="spacingAndGlyphs">Cux1<tspan font-size="5" dy="-2.8">mid</tspan></text>
<rect x="480.7" y="206" width="3" height="3" fill="#fff" stroke="#a3163f" stroke-width="0.9"/>
<text x="487.7" y="210.5" font-size="7.6" fill="#a3163f" textLength="26" lengthAdjust="spacingAndGlyphs">Cux1<tspan font-size="5" dy="-2.8">low</tspan></text>
<text x="10.1" y="273.6" font-size="12.2" font-weight="bold" fill="#000">D</text>
<text x="78.6" y="272.3" font-size="10.2" text-anchor="middle" font-weight="bold" fill="#000" textLength="63.8" lengthAdjust="spacingAndGlyphs">1° BMT PB at</text>
<text x="78.6" y="284" font-size="10.2" text-anchor="middle" font-weight="bold" fill="#000" textLength="103" lengthAdjust="spacingAndGlyphs">time of euthanization</text>
<line x1="26.5" y1="302" x2="26.5" y2="373.8" stroke="#111111" stroke-width="1.5"/>
<line x1="23.5" y1="373.5" x2="26.5" y2="373.5" stroke="#111111" stroke-width="1.5"/>
<text x="20.4" y="376.15" font-size="8.2" text-anchor="end">0</text>
<line x1="23.5" y1="359.5" x2="26.5" y2="359.5" stroke="#111111" stroke-width="1.5"/>
<text x="20.4" y="362.25" font-size="8.2" text-anchor="end">10</text>
<line x1="23.5" y1="345.5" x2="26.5" y2="345.5" stroke="#111111" stroke-width="1.5"/>
<text x="20.4" y="348.35" font-size="8.2" text-anchor="end">20</text>
<line x1="23.5" y1="331.5" x2="26.5" y2="331.5" stroke="#111111" stroke-width="1.5"/>
<text x="20.4" y="334.45" font-size="8.2" text-anchor="end">30</text>
<line x1="23.5" y1="317.5" x2="26.5" y2="317.5" stroke="#111111" stroke-width="1.5"/>
<text x="20.4" y="320.55" font-size="8.2" text-anchor="end">40</text>
<line x1="23.5" y1="303.5" x2="26.5" y2="303.5" stroke="#111111" stroke-width="1.5"/>
<text x="20.4" y="306.65" font-size="8.2" text-anchor="end">50</text>
<line x1="25.6" y1="373.5" x2="76.2" y2="373.5" stroke="#111111" stroke-width="1.5"/>
<line x1="36.5" y1="373.5" x2="36.5" y2="376.5" stroke="#111111" stroke-width="1.5"/>
<line x1="51.5" y1="373.5" x2="51.5" y2="376.5" stroke="#111111" stroke-width="1.5"/>
<line x1="66.5" y1="373.5" x2="66.5" y2="376.5" stroke="#111111" stroke-width="1.5"/>
<text x="51.5" y="387.3" font-size="8.5" text-anchor="middle" textLength="29.3" lengthAdjust="spacingAndGlyphs">RDW %</text>
<path d="M36.1,322.5 V311.2 H65.9 V313.8" stroke="#000" stroke-width="1.3" fill="none"/>
<path d="M36.1,322.5 V316.4 H51.6 V319" stroke="#000" stroke-width="1.3" fill="none"/>
<circle cx="49.3" cy="308.7" r="1.05" fill="#1a1a1a" stroke="none" stroke-width="1"/>
<circle cx="52.3" cy="308.7" r="1.05" fill="#1a1a1a" stroke="none" stroke-width="1"/>
<circle cx="43.8" cy="313.7" r="1.05" fill="#1a1a1a" stroke="none" stroke-width="1"/>
<line x1="36.6" y1="347.5" x2="36.6" y2="349.5" stroke="#29426f" stroke-width="1.1"/>
<line x1="34" y1="347.5" x2="39.2" y2="347.5" stroke="#29426f" stroke-width="1.1"/>
<line x1="34" y1="349.5" x2="39.2" y2="349.5" stroke="#29426f" stroke-width="1.1"/>
<line x1="31.6" y1="348.5" x2="41.6" y2="348.5" stroke="#29426f" stroke-width="1.3"/>
<circle cx="32.6" cy="347.7" r="1.8" fill="#29426f" stroke="none" stroke-width="1"/>
<circle cx="34.6" cy="349" r="1.8" fill="#29426f" stroke="none" stroke-width="1"/>
<circle cx="36.6" cy="348.2" r="1.8" fill="#29426f" stroke="none" stroke-width="1"/>
<circle cx="38.6" cy="349.4" r="1.8" fill="#29426f" stroke="none" stroke-width="1"/>
<circle cx="40.6" cy="348.8" r="1.8" fill="#29426f" stroke="none" stroke-width="1"/>
<circle cx="33.6" cy="349.5" r="1.8" fill="#29426f" stroke="none" stroke-width="1"/>
<circle cx="37.6" cy="350" r="1.8" fill="#29426f" stroke="none" stroke-width="1"/>
<line x1="51.5" y1="342.2" x2="51.5" y2="343.6" stroke="#7a9a5a" stroke-width="1.1"/>
<line x1="48.9" y1="342.2" x2="54.1" y2="342.2" stroke="#7a9a5a" stroke-width="1.1"/>
<line x1="48.9" y1="343.6" x2="54.1" y2="343.6" stroke="#7a9a5a" stroke-width="1.1"/>
<line x1="47" y1="342.9" x2="56" y2="342.9" stroke="#7a9a5a" stroke-width="1.3"/>
<polygon points="48.5,340.55 46.6,343.97 50.4,343.97" fill="#66a342" stroke="none" stroke-width="1"/>
<polygon points="50.5,340.95 48.6,344.37 52.4,344.37" fill="#66a342" stroke="none" stroke-width="1"/>
<polygon points="52.5,340.75 50.6,344.17 54.4,344.17" fill="#66a342" stroke="none" stroke-width="1"/>
<polygon points="54.5,341.25 52.6,344.67 56.4,344.67" fill="#66a342" stroke="none" stroke-width="1"/>
<polygon points="51.5,339.95 49.6,343.37 53.4,343.37" fill="#66a342" stroke="none" stroke-width="1"/>
<line x1="66.5" y1="320.8" x2="66.5" y2="340" stroke="#a3163f" stroke-width="1.1"/>
<line x1="63.9" y1="320.8" x2="69.1" y2="320.8" stroke="#a3163f" stroke-width="1.1"/>
<line x1="63.9" y1="340" x2="69.1" y2="340" stroke="#a3163f" stroke-width="1.1"/>
<line x1="60" y1="330.3" x2="73" y2="330.3" stroke="#a3163f" stroke-width="1.3"/>
<rect x="64.8" y="315.3" width="3.4" height="3.4" fill="#fff" stroke="#a3163f" stroke-width="1"/>
<rect x="61.8" y="323.3" width="3.4" height="3.4" fill="#fff" stroke="#a3163f" stroke-width="1"/>
<rect x="68.3" y="323.3" width="3.4" height="3.4" fill="#fff" stroke="#a3163f" stroke-width="1"/>
<rect x="64.8" y="329.8" width="3.4" height="3.4" fill="#fff" stroke="#a3163f" stroke-width="1"/>
<rect x="64.8" y="336" width="3.4" height="3.4" fill="#fff" stroke="#a3163f" stroke-width="1"/>
<rect x="64.8" y="346.8" width="3.4" height="3.4" fill="#fff" stroke="#a3163f" stroke-width="1"/>
<line x1="99.5" y1="303" x2="99.5" y2="373.8" stroke="#111111" stroke-width="1.5"/>
<line x1="96.5" y1="373.5" x2="99.5" y2="373.5" stroke="#111111" stroke-width="1.5"/>
<text x="93.2" y="376.15" font-size="8.2" text-anchor="end">30</text>
<line x1="96.5" y1="356.5" x2="99.5" y2="356.5" stroke="#111111" stroke-width="1.5"/>
<text x="93.2" y="359.08" font-size="8.2" text-anchor="end">40</text>
<line x1="96.5" y1="339.5" x2="99.5" y2="339.5" stroke="#111111" stroke-width="1.5"/>
<text x="93.2" y="342.01" font-size="8.2" text-anchor="end">50</text>
<line x1="96.5" y1="321.5" x2="99.5" y2="321.5" stroke="#111111" stroke-width="1.5"/>
<text x="93.2" y="324.94" font-size="8.2" text-anchor="end">60</text>
<line x1="96.5" y1="304.5" x2="99.5" y2="304.5" stroke="#111111" stroke-width="1.5"/>
<text x="93.2" y="307.87" font-size="8.2" text-anchor="end">70</text>
<line x1="98.6" y1="373.5" x2="146.5" y2="373.5" stroke="#111111" stroke-width="1.5"/>
<line x1="109.5" y1="373.5" x2="109.5" y2="376.5" stroke="#111111" stroke-width="1.5"/>
<line x1="123.5" y1="373.5" x2="123.5" y2="376.5" stroke="#111111" stroke-width="1.5"/>
<line x1="138.5" y1="373.5" x2="138.5" y2="376.5" stroke="#111111" stroke-width="1.5"/>
<text x="123.6" y="387" font-size="8.5" text-anchor="middle" textLength="27.3" lengthAdjust="spacingAndGlyphs">MCV fL</text>
<path d="M109.1,320.9 V309.7 H138.5 V312.7" stroke="#000" stroke-width="1.3" fill="none"/>
<path d="M109.1,320.9 V315.3 H123.8 V317.9" stroke="#000" stroke-width="1.3" fill="none"/>
<circle cx="123.6" cy="306.7" r="1.05" fill="#1a1a1a" stroke="none" stroke-width="1"/>
<circle cx="116.1" cy="312.5" r="1.05" fill="#1a1a1a" stroke="none" stroke-width="1"/>
<line x1="109.2" y1="348.5" x2="109.2" y2="358.5" stroke="#29426f" stroke-width="1.1"/>
<line x1="106.6" y1="348.5" x2="111.8" y2="348.5" stroke="#29426f" stroke-width="1.1"/>
<line x1="106.6" y1="358.5" x2="111.8" y2="358.5" stroke="#29426f" stroke-width="1.1"/>
<line x1="103.7" y1="352.8" x2="114.7" y2="352.8" stroke="#29426f" stroke-width="1.3"/>
<circle cx="106.2" cy="348" r="1.8" fill="#29426f" stroke="none" stroke-width="1"/>
<circle cx="109.2" cy="347.5" r="1.8" fill="#29426f" stroke="none" stroke-width="1"/>
<circle cx="112.2" cy="348" r="1.8" fill="#29426f" stroke="none" stroke-width="1"/>
<circle cx="109.2" cy="352" r="1.8" fill="#29426f" stroke="none" stroke-width="1"/>
<circle cx="109.2" cy="362" r="1.8" fill="#29426f" stroke="none" stroke-width="1"/>
<line x1="123.9" y1="325.7" x2="123.9" y2="351.2" stroke="#7a9a5a" stroke-width="1.1"/>
<line x1="121.3" y1="325.7" x2="126.5" y2="325.7" stroke="#7a9a5a" stroke-width="1.1"/>
<line x1="121.3" y1="351.2" x2="126.5" y2="351.2" stroke="#7a9a5a" stroke-width="1.1"/>
<line x1="117.9" y1="338.9" x2="129.9" y2="338.9" stroke="#7a9a5a" stroke-width="1.3"/>
<polygon points="123.9,323.65 122,327.07 125.8,327.07" fill="#66a342" stroke="none" stroke-width="1"/>
<polygon points="121.4,342.95 119.5,346.37 123.3,346.37" fill="#66a342" stroke="none" stroke-width="1"/>
<polygon points="123.9,349.95 122,353.37 125.8,353.37" fill="#66a342" stroke="none" stroke-width="1"/>
<line x1="138.1" y1="328.5" x2="138.1" y2="350.8" stroke="#a3163f" stroke-width="1.1"/>
<line x1="135.5" y1="328.5" x2="140.7" y2="328.5" stroke="#a3163f" stroke-width="1.1"/>
<line x1="135.5" y1="350.8" x2="140.7" y2="350.8" stroke="#a3163f" stroke-width="1.1"/>
<line x1="131.6" y1="339.5" x2="144.6" y2="339.5" stroke="#a3163f" stroke-width="1.3"/>
<rect x="136.4" y="316.8" width="3.4" height="3.4" fill="#fff" stroke="#a3163f" stroke-width="1"/>
<rect x="134.4" y="326.8" width="3.4" height="3.4" fill="#fff" stroke="#a3163f" stroke-width="1"/>
<rect x="133.4" y="341.9" width="3.4" height="3.4" fill="#fff" stroke="#a3163f" stroke-width="1"/>
<rect x="139.4" y="341.9" width="3.4" height="3.4" fill="#fff" stroke="#a3163f" stroke-width="1"/>
<rect x="135.4" y="347.3" width="3.4" height="3.4" fill="#fff" stroke="#a3163f" stroke-width="1"/>
<rect x="137.4" y="350.9" width="3.4" height="3.4" fill="#fff" stroke="#a3163f" stroke-width="1"/>
<rect x="137.9" y="336.8" width="3.4" height="3.4" fill="#fff" stroke="#a3163f" stroke-width="1"/>
<text x="163.6" y="273.8" font-size="12.2" font-weight="bold" fill="#000">E</text>
<text x="250.4" y="272.3" font-size="10.2" text-anchor="middle" font-weight="bold" fill="#000" textLength="54" lengthAdjust="spacingAndGlyphs">1° BMT BM</text>
<text x="224" y="281.9" font-size="7.6" text-anchor="middle" textLength="23.5" lengthAdjust="spacingAndGlyphs">3 mos.</text>
<line x1="212.3" y1="283.6" x2="235.8" y2="283.6" stroke="#454545" stroke-width="0.7"/>
<text x="295.2" y="281.9" font-size="7.6" text-anchor="middle" textLength="47.9" lengthAdjust="spacingAndGlyphs">euthanization</text>
<line x1="271.3" y1="283.6" x2="319.2" y2="283.6" stroke="#454545" stroke-width="0.7"/>
<text x="410" y="272.3" font-size="10.2" text-anchor="middle" font-weight="bold" fill="#000" textLength="70" lengthAdjust="spacingAndGlyphs">1° BMT spleen</text>
<text x="383.6" y="281.9" font-size="7.6" text-anchor="middle" textLength="24.7" lengthAdjust="spacingAndGlyphs">3 mos.</text>
<line x1="371.3" y1="283.6" x2="396" y2="283.6" stroke="#454545" stroke-width="0.7"/>
<text x="454.3" y="281.9" font-size="7.6" text-anchor="middle" textLength="47.8" lengthAdjust="spacingAndGlyphs">euthanization</text>
<line x1="430.4" y1="283.6" x2="478.2" y2="283.6" stroke="#454545" stroke-width="0.7"/>
<line x1="202.5" y1="303.5" x2="202.5" y2="373.8" stroke="#111111" stroke-width="1.5"/>
<line x1="199.5" y1="373.5" x2="202.5" y2="373.5" stroke="#111111" stroke-width="1.5"/>
<text x="196" y="376.15" font-size="8.2" text-anchor="end">20</text>
<line x1="199.5" y1="356.5" x2="202.5" y2="356.5" stroke="#111111" stroke-width="1.5"/>
<text x="196" y="359.22" font-size="8.2" text-anchor="end">40</text>
<line x1="199.5" y1="339.5" x2="202.5" y2="339.5" stroke="#111111" stroke-width="1.5"/>
<text x="196" y="342.29" font-size="8.2" text-anchor="end">60</text>
<line x1="199.5" y1="322.5" x2="202.5" y2="322.5" stroke="#111111" stroke-width="1.5"/>
<text x="196" y="325.36" font-size="8.2" text-anchor="end">80</text>
<line x1="199.5" y1="305.5" x2="202.5" y2="305.5" stroke="#111111" stroke-width="1.5"/>
<text x="196" y="308.43" font-size="8.2" text-anchor="end">100</text>
<line x1="201.4" y1="373.5" x2="245.9" y2="373.5" stroke="#111111" stroke-width="1.5"/>
<line x1="211.5" y1="373.5" x2="211.5" y2="376.5" stroke="#111111" stroke-width="1.5"/>
<line x1="224.5" y1="373.5" x2="224.5" y2="376.5" stroke="#111111" stroke-width="1.5"/>
<line x1="236.5" y1="373.5" x2="236.5" y2="376.5" stroke="#111111" stroke-width="1.5"/>
<text x="176.2" y="337.2" font-size="9.5" text-anchor="middle" textLength="82.5" lengthAdjust="spacingAndGlyphs" transform="rotate(-90 176.2 337.2)">Leukocyte count (x 10<tspan font-size="5.4" dy="-3">6</tspan><tspan dy="3">)</tspan></text>
<text x="223.8" y="307.5" font-size="8.2" text-anchor="middle" textLength="25.9" lengthAdjust="spacingAndGlyphs"><tspan font-style="italic">p</tspan>=0.09</text>
<path d="M211.1,316.2 V310.8 H237.3 V316.2" stroke="#000" stroke-width="1.3" fill="none"/>
<line x1="211.1" y1="328.2" x2="211.1" y2="350.2" stroke="#29426f" stroke-width="1.1"/>
<line x1="208.5" y1="328.2" x2="213.7" y2="328.2" stroke="#29426f" stroke-width="1.1"/>
<line x1="208.5" y1="350.2" x2="213.7" y2="350.2" stroke="#29426f" stroke-width="1.1"/>
<line x1="204.6" y1="339.4" x2="217.6" y2="339.4" stroke="#29426f" stroke-width="1.3"/>
<circle cx="211.1" cy="330.4" r="1.8" fill="#29426f" stroke="none" stroke-width="1"/>
<circle cx="214.1" cy="332.2" r="1.8" fill="#29426f" stroke="none" stroke-width="1"/>
<circle cx="208.1" cy="339" r="1.8" fill="#29426f" stroke="none" stroke-width="1"/>
<circle cx="214.1" cy="340.2" r="1.8" fill="#29426f" stroke="none" stroke-width="1"/>
<circle cx="211.1" cy="360.5" r="1.8" fill="#29426f" stroke="none" stroke-width="1"/>
<line x1="224" y1="325.3" x2="224" y2="336.1" stroke="#7a9a5a" stroke-width="1.1"/>
<line x1="221.4" y1="325.3" x2="226.6" y2="325.3" stroke="#7a9a5a" stroke-width="1.1"/>
<line x1="221.4" y1="336.1" x2="226.6" y2="336.1" stroke="#7a9a5a" stroke-width="1.1"/>
<line x1="217.5" y1="330.8" x2="230.5" y2="330.8" stroke="#7a9a5a" stroke-width="1.3"/>
<line x1="236.9" y1="325.3" x2="236.9" y2="337.3" stroke="#a3163f" stroke-width="1.1"/>
<line x1="234.3" y1="325.3" x2="239.5" y2="325.3" stroke="#a3163f" stroke-width="1.1"/>
<line x1="234.3" y1="337.3" x2="239.5" y2="337.3" stroke="#a3163f" stroke-width="1.1"/>
<line x1="230.4" y1="330" x2="243.4" y2="330" stroke="#a3163f" stroke-width="1.3"/>
<rect x="231.2" y="323.3" width="3.4" height="3.4" fill="#fff" stroke="#a3163f" stroke-width="1"/>
<rect x="235.2" y="322.3" width="3.4" height="3.4" fill="#fff" stroke="#a3163f" stroke-width="1"/>
<rect x="238.2" y="325.3" width="3.4" height="3.4" fill="#fff" stroke="#a3163f" stroke-width="1"/>
<rect x="235.2" y="328.3" width="3.4" height="3.4" fill="#fff" stroke="#a3163f" stroke-width="1"/>
<rect x="238.2" y="329.3" width="3.4" height="3.4" fill="#fff" stroke="#a3163f" stroke-width="1"/>
<rect x="235.2" y="341.6" width="3.4" height="3.4" fill="#fff" stroke="#a3163f" stroke-width="1"/>
<text x="214.4" y="383.1" font-size="8.4" text-anchor="end" textLength="15" lengthAdjust="spacingAndGlyphs" transform="rotate(-45 214.4 383.1)">Ren</text>
<text x="227.3" y="383.1" font-size="8.4" text-anchor="end" textLength="31" lengthAdjust="spacingAndGlyphs" transform="rotate(-45 227.3 383.1)">Cux1<tspan font-size="6.2" dy="-2.8">mid</tspan></text>
<text x="240.2" y="383.1" font-size="8.4" text-anchor="end" textLength="31" lengthAdjust="spacingAndGlyphs" transform="rotate(-45 240.2 383.1)">Cux1<tspan font-size="6.2" dy="-2.8">low</tspan></text>
<line x1="268.5" y1="303.5" x2="268.5" y2="373.8" stroke="#111111" stroke-width="1.5"/>
<line x1="265.5" y1="373.5" x2="268.5" y2="373.5" stroke="#111111" stroke-width="1.5"/>
<text x="262.7" y="376.15" font-size="8.2" text-anchor="end">20</text>
<line x1="265.5" y1="359.5" x2="268.5" y2="359.5" stroke="#111111" stroke-width="1.5"/>
<text x="262.7" y="362.53" font-size="8.2" text-anchor="end">25</text>
<line x1="265.5" y1="345.5" x2="268.5" y2="345.5" stroke="#111111" stroke-width="1.5"/>
<text x="262.7" y="348.91" font-size="8.2" text-anchor="end">30</text>
<line x1="265.5" y1="332.5" x2="268.5" y2="332.5" stroke="#111111" stroke-width="1.5"/>
<text x="262.7" y="335.29" font-size="8.2" text-anchor="end">35</text>
<line x1="265.5" y1="318.5" x2="268.5" y2="318.5" stroke="#111111" stroke-width="1.5"/>
<text x="262.7" y="321.67" font-size="8.2" text-anchor="end">40</text>
<line x1="265.5" y1="305.5" x2="268.5" y2="305.5" stroke="#111111" stroke-width="1.5"/>
<text x="262.7" y="308.05" font-size="8.2" text-anchor="end">45</text>
<line x1="267.9" y1="373.5" x2="316" y2="373.5" stroke="#111111" stroke-width="1.5"/>
<line x1="278.5" y1="373.5" x2="278.5" y2="376.5" stroke="#111111" stroke-width="1.5"/>
<line x1="295.5" y1="373.5" x2="295.5" y2="376.5" stroke="#111111" stroke-width="1.5"/>
<line x1="310.5" y1="373.5" x2="310.5" y2="376.5" stroke="#111111" stroke-width="1.5"/>
<text x="294.3" y="305.7" font-size="8.2" text-anchor="middle" textLength="25.5" lengthAdjust="spacingAndGlyphs">p=0.09</text>
<path d="M278.7,312.8 V308.9 H311.2 V310.4" stroke="#000" stroke-width="1.3" fill="none"/>
<line x1="278.8" y1="318.5" x2="278.8" y2="342.4" stroke="#29426f" stroke-width="1.1"/>
<line x1="276.2" y1="318.5" x2="281.4" y2="318.5" stroke="#29426f" stroke-width="1.1"/>
<line x1="276.2" y1="342.4" x2="281.4" y2="342.4" stroke="#29426f" stroke-width="1.1"/>
<line x1="271.8" y1="330.6" x2="285.8" y2="330.6" stroke="#29426f" stroke-width="1.3"/>
<circle cx="278.8" cy="312.7" r="1.8" fill="#29426f" stroke="none" stroke-width="1"/>
<circle cx="278.8" cy="332.1" r="1.8" fill="#29426f" stroke="none" stroke-width="1"/>
<circle cx="275.3" cy="338.5" r="1.8" fill="#29426f" stroke="none" stroke-width="1"/>
<circle cx="282.3" cy="338.5" r="1.8" fill="#29426f" stroke="none" stroke-width="1"/>
<line x1="295.1" y1="322.4" x2="295.1" y2="354" stroke="#7a9a5a" stroke-width="1.1"/>
<line x1="292.5" y1="322.4" x2="297.7" y2="322.4" stroke="#7a9a5a" stroke-width="1.1"/>
<line x1="292.5" y1="354" x2="297.7" y2="354" stroke="#7a9a5a" stroke-width="1.1"/>
<line x1="288.1" y1="339" x2="302.1" y2="339" stroke="#7a9a5a" stroke-width="1.3"/>
<polygon points="295.1,320.35 293.2,323.77 297,323.77" fill="#66a342" stroke="none" stroke-width="1"/>
<polygon points="295.1,341.85 293.2,345.27 297,345.27" fill="#66a342" stroke="none" stroke-width="1"/>
<polygon points="295.1,351.95 293.2,355.37 297,355.37" fill="#66a342" stroke="none" stroke-width="1"/>
<line x1="310.6" y1="333.2" x2="310.6" y2="353.2" stroke="#a3163f" stroke-width="1.1"/>
<line x1="308" y1="333.2" x2="313.2" y2="333.2" stroke="#a3163f" stroke-width="1.1"/>
<line x1="308" y1="353.2" x2="313.2" y2="353.2" stroke="#a3163f" stroke-width="1.1"/>
<line x1="303.6" y1="342.8" x2="317.6" y2="342.8" stroke="#a3163f" stroke-width="1.3"/>
<rect x="308.9" y="325" width="3.4" height="3.4" fill="#fff" stroke="#a3163f" stroke-width="1"/>
<rect x="305.4" y="332.5" width="3.4" height="3.4" fill="#fff" stroke="#a3163f" stroke-width="1"/>
<rect x="312.4" y="332.5" width="3.4" height="3.4" fill="#fff" stroke="#a3163f" stroke-width="1"/>
<rect x="308.9" y="335.3" width="3.4" height="3.4" fill="#fff" stroke="#a3163f" stroke-width="1"/>
<rect x="305.4" y="341.1" width="3.4" height="3.4" fill="#fff" stroke="#a3163f" stroke-width="1"/>
<rect x="312.4" y="341.1" width="3.4" height="3.4" fill="#fff" stroke="#a3163f" stroke-width="1"/>
<rect x="308.9" y="344.8" width="3.4" height="3.4" fill="#fff" stroke="#a3163f" stroke-width="1"/>
<rect x="305.4" y="350.8" width="3.4" height="3.4" fill="#fff" stroke="#a3163f" stroke-width="1"/>
<rect x="308.9" y="358.3" width="3.4" height="3.4" fill="#fff" stroke="#a3163f" stroke-width="1"/>
<text x="282.1" y="383.1" font-size="8.4" text-anchor="end" textLength="15" lengthAdjust="spacingAndGlyphs" transform="rotate(-45 282.1 383.1)">Ren</text>
<text x="298.4" y="383.1" font-size="8.4" text-anchor="end" textLength="31" lengthAdjust="spacingAndGlyphs" transform="rotate(-45 298.4 383.1)">Cux1<tspan font-size="6.2" dy="-2.8">mid</tspan></text>
<text x="313.9" y="383.1" font-size="8.4" text-anchor="end" textLength="31" lengthAdjust="spacingAndGlyphs" transform="rotate(-45 313.9 383.1)">Cux1<tspan font-size="6.2" dy="-2.8">low</tspan></text>
<line x1="362.5" y1="304.3" x2="362.5" y2="373.9" stroke="#111111" stroke-width="1.5"/>
<line x1="359.5" y1="373.5" x2="362.5" y2="373.5" stroke="#111111" stroke-width="1.5"/>
<text x="356.6" y="376.25" font-size="8.2" text-anchor="end">30</text>
<line x1="359.5" y1="356.5" x2="362.5" y2="356.5" stroke="#111111" stroke-width="1.5"/>
<text x="356.6" y="359.5" font-size="8.2" text-anchor="end">40</text>
<line x1="359.5" y1="339.5" x2="362.5" y2="339.5" stroke="#111111" stroke-width="1.5"/>
<text x="356.6" y="342.75" font-size="8.2" text-anchor="end">50</text>
<line x1="359.5" y1="323.5" x2="362.5" y2="323.5" stroke="#111111" stroke-width="1.5"/>
<text x="356.6" y="326" font-size="8.2" text-anchor="end">60</text>
<line x1="359.5" y1="306.5" x2="362.5" y2="306.5" stroke="#111111" stroke-width="1.5"/>
<text x="356.6" y="309.25" font-size="8.2" text-anchor="end">70</text>
<line x1="361.5" y1="373.5" x2="404.8" y2="373.5" stroke="#111111" stroke-width="1.5"/>
<line x1="374.5" y1="373.5" x2="374.5" y2="376.5" stroke="#111111" stroke-width="1.5"/>
<line x1="392.5" y1="373.5" x2="392.5" y2="376.5" stroke="#111111" stroke-width="1.5"/>
<text x="339.6" y="336.6" font-size="9.5" text-anchor="middle" textLength="83" lengthAdjust="spacingAndGlyphs" transform="rotate(-90 339.6 336.6)">Leukocyte count (x 10<tspan font-size="5.4" dy="-3">6</tspan><tspan dy="3">)</tspan></text>
<line x1="374.5" y1="344.6" x2="374.5" y2="367" stroke="#29426f" stroke-width="1.1"/>
<line x1="371.9" y1="344.6" x2="377.1" y2="344.6" stroke="#29426f" stroke-width="1.1"/>
<line x1="371.9" y1="367" x2="377.1" y2="367" stroke="#29426f" stroke-width="1.1"/>
<line x1="367.5" y1="355.1" x2="381.5" y2="355.1" stroke="#29426f" stroke-width="1.3"/>
<circle cx="374.5" cy="337.9" r="1.8" fill="#29426f" stroke="none" stroke-width="1"/>
<circle cx="374.5" cy="352.1" r="1.8" fill="#29426f" stroke="none" stroke-width="1"/>
<circle cx="371" cy="360.5" r="1.8" fill="#29426f" stroke="none" stroke-width="1"/>
<circle cx="378" cy="360.5" r="1.8" fill="#29426f" stroke="none" stroke-width="1"/>
<circle cx="374.5" cy="367.6" r="1.8" fill="#29426f" stroke="none" stroke-width="1"/>
<line x1="392.8" y1="333.2" x2="392.8" y2="362.9" stroke="#a3163f" stroke-width="1.1"/>
<line x1="390.2" y1="333.2" x2="395.4" y2="333.2" stroke="#a3163f" stroke-width="1.1"/>
<line x1="390.2" y1="362.9" x2="395.4" y2="362.9" stroke="#a3163f" stroke-width="1.1"/>
<line x1="385.8" y1="348.2" x2="399.8" y2="348.2" stroke="#a3163f" stroke-width="1.3"/>
<rect x="391.1" y="321.1" width="3.4" height="3.4" fill="#fff" stroke="#a3163f" stroke-width="1"/>
<rect x="391.1" y="346.1" width="3.4" height="3.4" fill="#fff" stroke="#a3163f" stroke-width="1"/>
<rect x="391.1" y="351.3" width="3.4" height="3.4" fill="#fff" stroke="#a3163f" stroke-width="1"/>
<rect x="387.6" y="357.7" width="3.4" height="3.4" fill="#fff" stroke="#a3163f" stroke-width="1"/>
<rect x="394.6" y="357.7" width="3.4" height="3.4" fill="#fff" stroke="#a3163f" stroke-width="1"/>
<text x="377.8" y="383.1" font-size="8.4" text-anchor="end" textLength="15" lengthAdjust="spacingAndGlyphs" transform="rotate(-45 377.8 383.1)">Ren</text>
<text x="396.1" y="383.1" font-size="8.4" text-anchor="end" textLength="31" lengthAdjust="spacingAndGlyphs" transform="rotate(-45 396.1 383.1)">Cux1<tspan font-size="6.2" dy="-2.8">low</tspan></text>
<line x1="428.5" y1="303.5" x2="428.5" y2="373.8" stroke="#111111" stroke-width="1.5"/>
<line x1="425.5" y1="373.5" x2="428.5" y2="373.5" stroke="#111111" stroke-width="1.5"/>
<text x="422.1" y="376.15" font-size="8.2" text-anchor="end">20</text>
<line x1="425.5" y1="361.5" x2="428.5" y2="361.5" stroke="#111111" stroke-width="1.5"/>
<text x="422.1" y="364.87" font-size="8.2" text-anchor="end">25</text>
<line x1="425.5" y1="350.5" x2="428.5" y2="350.5" stroke="#111111" stroke-width="1.5"/>
<text x="422.1" y="353.59" font-size="8.2" text-anchor="end">30</text>
<line x1="425.5" y1="339.5" x2="428.5" y2="339.5" stroke="#111111" stroke-width="1.5"/>
<text x="422.1" y="342.31" font-size="8.2" text-anchor="end">35</text>
<line x1="425.5" y1="328.5" x2="428.5" y2="328.5" stroke="#111111" stroke-width="1.5"/>
<text x="422.1" y="331.03" font-size="8.2" text-anchor="end">40</text>
<line x1="425.5" y1="316.5" x2="428.5" y2="316.5" stroke="#111111" stroke-width="1.5"/>
<text x="422.1" y="319.75" font-size="8.2" text-anchor="end">45</text>
<line x1="425.5" y1="305.5" x2="428.5" y2="305.5" stroke="#111111" stroke-width="1.5"/>
<text x="422.1" y="308.47" font-size="8.2" text-anchor="end">50</text>
<line x1="427.4" y1="373.5" x2="480.3" y2="373.5" stroke="#111111" stroke-width="1.5"/>
<line x1="438.5" y1="373.5" x2="438.5" y2="376.5" stroke="#111111" stroke-width="1.5"/>
<line x1="454.5" y1="373.5" x2="454.5" y2="376.5" stroke="#111111" stroke-width="1.5"/>
<line x1="469.5" y1="373.5" x2="469.5" y2="376.5" stroke="#111111" stroke-width="1.5"/>
<text x="453.6" y="306.8" font-size="8.2" text-anchor="middle" textLength="25" lengthAdjust="spacingAndGlyphs">p=0.15</text>
<path d="M438.3,312.3 V309.4 H469.5 V312.3" stroke="#000" stroke-width="1.3" fill="none"/>
<line x1="438.4" y1="332.1" x2="438.4" y2="346.1" stroke="#29426f" stroke-width="1.1"/>
<line x1="435.8" y1="332.1" x2="441" y2="332.1" stroke="#29426f" stroke-width="1.1"/>
<line x1="435.8" y1="346.1" x2="441" y2="346.1" stroke="#29426f" stroke-width="1.1"/>
<line x1="431.4" y1="337.9" x2="445.4" y2="337.9" stroke="#29426f" stroke-width="1.3"/>
<circle cx="434.9" cy="332" r="1.8" fill="#29426f" stroke="none" stroke-width="1"/>
<circle cx="441.9" cy="332" r="1.8" fill="#29426f" stroke="none" stroke-width="1"/>
<circle cx="438.4" cy="339" r="1.8" fill="#29426f" stroke="none" stroke-width="1"/>
<circle cx="434.9" cy="341" r="1.8" fill="#29426f" stroke="none" stroke-width="1"/>
<circle cx="438.4" cy="346" r="1.8" fill="#29426f" stroke="none" stroke-width="1"/>
<line x1="454.1" y1="323.5" x2="454.1" y2="347.8" stroke="#7a9a5a" stroke-width="1.1"/>
<line x1="451.5" y1="323.5" x2="456.7" y2="323.5" stroke="#7a9a5a" stroke-width="1.1"/>
<line x1="451.5" y1="347.8" x2="456.7" y2="347.8" stroke="#7a9a5a" stroke-width="1.1"/>
<line x1="447.1" y1="335.7" x2="461.1" y2="335.7" stroke="#7a9a5a" stroke-width="1.3"/>
<polygon points="454.1,317.15 452.2,320.57 456,320.57" fill="#66a342" stroke="none" stroke-width="1"/>
<polygon points="454.1,345.75 452.2,349.17 456,349.17" fill="#66a342" stroke="none" stroke-width="1"/>
<polygon points="450.6,345.75 448.7,349.17 452.5,349.17" fill="#66a342" stroke="none" stroke-width="1"/>
<line x1="469.1" y1="335.3" x2="469.1" y2="354.7" stroke="#a3163f" stroke-width="1.1"/>
<line x1="466.5" y1="335.3" x2="471.7" y2="335.3" stroke="#a3163f" stroke-width="1.1"/>
<line x1="466.5" y1="354.7" x2="471.7" y2="354.7" stroke="#a3163f" stroke-width="1.1"/>
<line x1="462.1" y1="345.6" x2="476.1" y2="345.6" stroke="#a3163f" stroke-width="1.3"/>
<rect x="467.4" y="327.6" width="3.4" height="3.4" fill="#fff" stroke="#a3163f" stroke-width="1"/>
<rect x="467.4" y="334.8" width="3.4" height="3.4" fill="#fff" stroke="#a3163f" stroke-width="1"/>
<rect x="463.9" y="339.3" width="3.4" height="3.4" fill="#fff" stroke="#a3163f" stroke-width="1"/>
<rect x="470.9" y="339.3" width="3.4" height="3.4" fill="#fff" stroke="#a3163f" stroke-width="1"/>
<rect x="463.9" y="344.3" width="3.4" height="3.4" fill="#fff" stroke="#a3163f" stroke-width="1"/>
<rect x="470.9" y="344.3" width="3.4" height="3.4" fill="#fff" stroke="#a3163f" stroke-width="1"/>
<rect x="467.4" y="348.3" width="3.4" height="3.4" fill="#fff" stroke="#a3163f" stroke-width="1"/>
<rect x="463.9" y="352.3" width="3.4" height="3.4" fill="#fff" stroke="#a3163f" stroke-width="1"/>
<rect x="470.9" y="352.3" width="3.4" height="3.4" fill="#fff" stroke="#a3163f" stroke-width="1"/>
<rect x="467.4" y="359.9" width="3.4" height="3.4" fill="#fff" stroke="#a3163f" stroke-width="1"/>
<text x="441.7" y="383.1" font-size="8.4" text-anchor="end" textLength="15" lengthAdjust="spacingAndGlyphs" transform="rotate(-45 441.7 383.1)">Ren</text>
<text x="457.4" y="383.1" font-size="8.4" text-anchor="end" textLength="31" lengthAdjust="spacingAndGlyphs" transform="rotate(-45 457.4 383.1)">Cux1<tspan font-size="6.2" dy="-2.8">mid</tspan></text>
<text x="472.4" y="383.1" font-size="8.4" text-anchor="end" textLength="31" lengthAdjust="spacingAndGlyphs" transform="rotate(-45 472.4 383.1)">Cux1<tspan font-size="6.2" dy="-2.8">low</tspan></text>
<text x="12.7" y="433.8" font-size="12.2" font-weight="bold" fill="#000">F</text>
<text x="202.6" y="435" font-size="10.2" text-anchor="middle" font-weight="bold" fill="#000" textLength="184.4" lengthAdjust="spacingAndGlyphs">1° BMT bone marrow after 3 mos. dox</text>
<text x="21.4" y="479.4" font-size="8.8" text-anchor="middle" textLength="68.2" lengthAdjust="spacingAndGlyphs" transform="rotate(-90 21.4 479.4)">Absolute cell count</text>
<text x="33.3" y="479.6" font-size="8.8" text-anchor="middle" textLength="24.5" lengthAdjust="spacingAndGlyphs" transform="rotate(-90 33.3 479.6)">(x 10<tspan font-size="5.6" dy="-3.2">5</tspan><tspan dy="3.2">)</tspan></text>
<line x1="64.5" y1="443.9" x2="64.5" y2="517.7" stroke="#111111" stroke-width="1.5"/>
<line x1="61.5" y1="446.5" x2="64.5" y2="446.5" stroke="#111111" stroke-width="1.5"/>
<text x="58.8" y="449.05" font-size="8.2" text-anchor="end">1000</text>
<line x1="61.5" y1="463.5" x2="64.5" y2="463.5" stroke="#111111" stroke-width="1.5"/>
<text x="58.8" y="466.8" font-size="8.2" text-anchor="end">100</text>
<line x1="61.5" y1="481.5" x2="64.5" y2="481.5" stroke="#111111" stroke-width="1.5"/>
<text x="58.8" y="484.55" font-size="8.2" text-anchor="end">10</text>
<line x1="61.5" y1="499.5" x2="64.5" y2="499.5" stroke="#111111" stroke-width="1.5"/>
<text x="58.8" y="502.3" font-size="8.2" text-anchor="end">1</text>
<line x1="61.5" y1="517.5" x2="64.5" y2="517.5" stroke="#111111" stroke-width="1.5"/>
<text x="58.8" y="520.05" font-size="8.2" text-anchor="end">0.1</text>
<line x1="62.7" y1="458.51" x2="64.5" y2="458.51" stroke="#111111" stroke-width="0.8"/>
<line x1="62.7" y1="455.38" x2="64.5" y2="455.38" stroke="#111111" stroke-width="0.8"/>
<line x1="62.7" y1="453.16" x2="64.5" y2="453.16" stroke="#111111" stroke-width="0.8"/>
<line x1="62.7" y1="451.44" x2="64.5" y2="451.44" stroke="#111111" stroke-width="0.8"/>
<line x1="62.7" y1="450.04" x2="64.5" y2="450.04" stroke="#111111" stroke-width="0.8"/>
<line x1="62.7" y1="448.85" x2="64.5" y2="448.85" stroke="#111111" stroke-width="0.8"/>
<line x1="62.7" y1="447.82" x2="64.5" y2="447.82" stroke="#111111" stroke-width="0.8"/>
<line x1="62.7" y1="446.91" x2="64.5" y2="446.91" stroke="#111111" stroke-width="0.8"/>
<line x1="62.7" y1="476.26" x2="64.5" y2="476.26" stroke="#111111" stroke-width="0.8"/>
<line x1="62.7" y1="473.13" x2="64.5" y2="473.13" stroke="#111111" stroke-width="0.8"/>
<line x1="62.7" y1="470.91" x2="64.5" y2="470.91" stroke="#111111" stroke-width="0.8"/>
<line x1="62.7" y1="469.19" x2="64.5" y2="469.19" stroke="#111111" stroke-width="0.8"/>
<line x1="62.7" y1="467.79" x2="64.5" y2="467.79" stroke="#111111" stroke-width="0.8"/>
<line x1="62.7" y1="466.6" x2="64.5" y2="466.6" stroke="#111111" stroke-width="0.8"/>
<line x1="62.7" y1="465.57" x2="64.5" y2="465.57" stroke="#111111" stroke-width="0.8"/>
<line x1="62.7" y1="464.66" x2="64.5" y2="464.66" stroke="#111111" stroke-width="0.8"/>
<line x1="62.7" y1="494.01" x2="64.5" y2="494.01" stroke="#111111" stroke-width="0.8"/>
<line x1="62.7" y1="490.88" x2="64.5" y2="490.88" stroke="#111111" stroke-width="0.8"/>
<line x1="62.7" y1="488.66" x2="64.5" y2="488.66" stroke="#111111" stroke-width="0.8"/>
<line x1="62.7" y1="486.94" x2="64.5" y2="486.94" stroke="#111111" stroke-width="0.8"/>
<line x1="62.7" y1="485.54" x2="64.5" y2="485.54" stroke="#111111" stroke-width="0.8"/>
<line x1="62.7" y1="484.35" x2="64.5" y2="484.35" stroke="#111111" stroke-width="0.8"/>
<line x1="62.7" y1="483.32" x2="64.5" y2="483.32" stroke="#111111" stroke-width="0.8"/>
<line x1="62.7" y1="482.41" x2="64.5" y2="482.41" stroke="#111111" stroke-width="0.8"/>
<line x1="62.7" y1="511.76" x2="64.5" y2="511.76" stroke="#111111" stroke-width="0.8"/>
<line x1="62.7" y1="508.63" x2="64.5" y2="508.63" stroke="#111111" stroke-width="0.8"/>
<line x1="62.7" y1="506.41" x2="64.5" y2="506.41" stroke="#111111" stroke-width="0.8"/>
<line x1="62.7" y1="504.69" x2="64.5" y2="504.69" stroke="#111111" stroke-width="0.8"/>
<line x1="62.7" y1="503.29" x2="64.5" y2="503.29" stroke="#111111" stroke-width="0.8"/>
<line x1="62.7" y1="502.1" x2="64.5" y2="502.1" stroke="#111111" stroke-width="0.8"/>
<line x1="62.7" y1="501.07" x2="64.5" y2="501.07" stroke="#111111" stroke-width="0.8"/>
<line x1="62.7" y1="500.16" x2="64.5" y2="500.16" stroke="#111111" stroke-width="0.8"/>
<line x1="63.8" y1="517.5" x2="132.1" y2="517.5" stroke="#111111" stroke-width="1.5"/>
<line x1="81.5" y1="517.5" x2="81.5" y2="520.5" stroke="#111111" stroke-width="1.5"/>
<line x1="117.5" y1="517.5" x2="117.5" y2="520.5" stroke="#111111" stroke-width="1.5"/>
<text x="81.9" y="531" font-size="8.4" text-anchor="middle" textLength="13.5" lengthAdjust="spacingAndGlyphs">LSK</text>
<text x="116.8" y="531" font-size="8.4" text-anchor="middle" textLength="11.5" lengthAdjust="spacingAndGlyphs">MP</text>
<path d="M68,485 V480.4 H86.9 V483.7" stroke="#000" stroke-width="1.3" fill="none"/>
<circle cx="77.6" cy="477.6" r="1.05" fill="#1a1a1a" stroke="none" stroke-width="1"/>
<path d="M103.3,457.5 V451.6 H121.5 V454.6" stroke="#000" stroke-width="1.3" fill="none"/>
<circle cx="112.2" cy="448.2" r="1.05" fill="#1a1a1a" stroke="none" stroke-width="1"/>
<circle cx="67.6" cy="497.5" r="1.8" fill="#29426f" stroke="none" stroke-width="1"/>
<circle cx="69.6" cy="496" r="1.8" fill="#29426f" stroke="none" stroke-width="1"/>
<circle cx="71.6" cy="497" r="1.8" fill="#29426f" stroke="none" stroke-width="1"/>
<circle cx="73.6" cy="495.5" r="1.8" fill="#29426f" stroke="none" stroke-width="1"/>
<circle cx="70.6" cy="498.5" r="1.8" fill="#29426f" stroke="none" stroke-width="1"/>
<circle cx="72.6" cy="494.5" r="1.8" fill="#29426f" stroke="none" stroke-width="1"/>
<circle cx="68.6" cy="498" r="1.8" fill="#29426f" stroke="none" stroke-width="1"/>
<line x1="78.3" y1="492" x2="78.3" y2="500.5" stroke="#7a9a5a" stroke-width="1.1"/>
<line x1="75.7" y1="492" x2="80.9" y2="492" stroke="#7a9a5a" stroke-width="1.1"/>
<line x1="75.7" y1="500.5" x2="80.9" y2="500.5" stroke="#7a9a5a" stroke-width="1.1"/>
<line x1="74.8" y1="496.5" x2="81.8" y2="496.5" stroke="#7a9a5a" stroke-width="1.3"/>
<polygon points="76.3,496.45 74.4,499.87 78.2,499.87" fill="#66a342" stroke="none" stroke-width="1"/>
<polygon points="78.3,491.45 76.4,494.87 80.2,494.87" fill="#66a342" stroke="none" stroke-width="1"/>
<polygon points="80.3,495.45 78.4,498.87 82.2,498.87" fill="#66a342" stroke="none" stroke-width="1"/>
<polygon points="78.3,498.45 76.4,501.87 80.2,501.87" fill="#66a342" stroke="none" stroke-width="1"/>
<line x1="85.6" y1="491" x2="85.6" y2="497" stroke="#a3163f" stroke-width="1.1"/>
<line x1="83" y1="491" x2="88.2" y2="491" stroke="#a3163f" stroke-width="1.1"/>
<line x1="83" y1="497" x2="88.2" y2="497" stroke="#a3163f" stroke-width="1.1"/>
<line x1="81.1" y1="494" x2="90.1" y2="494" stroke="#a3163f" stroke-width="1.3"/>
<rect x="80.9" y="492.8" width="3.4" height="3.4" fill="#fff" stroke="#a3163f" stroke-width="1"/>
<rect x="83.9" y="490.3" width="3.4" height="3.4" fill="#fff" stroke="#a3163f" stroke-width="1"/>
<rect x="86.9" y="493.3" width="3.4" height="3.4" fill="#fff" stroke="#a3163f" stroke-width="1"/>
<rect x="82.4" y="495.1" width="3.4" height="3.4" fill="#fff" stroke="#a3163f" stroke-width="1"/>
<rect x="85.4" y="489.8" width="3.4" height="3.4" fill="#fff" stroke="#a3163f" stroke-width="1"/>
<rect x="87.4" y="490.8" width="3.4" height="3.4" fill="#fff" stroke="#a3163f" stroke-width="1"/>
<circle cx="102.2" cy="474.2" r="1.8" fill="#29426f" stroke="none" stroke-width="1"/>
<circle cx="104.2" cy="473.2" r="1.8" fill="#29426f" stroke="none" stroke-width="1"/>
<circle cx="106.2" cy="474.4" r="1.8" fill="#29426f" stroke="none" stroke-width="1"/>
<circle cx="108.2" cy="473.4" r="1.8" fill="#29426f" stroke="none" stroke-width="1"/>
<circle cx="110.2" cy="474" r="1.8" fill="#29426f" stroke="none" stroke-width="1"/>
<circle cx="105.2" cy="475" r="1.8" fill="#29426f" stroke="none" stroke-width="1"/>
<circle cx="107.2" cy="473" r="1.8" fill="#29426f" stroke="none" stroke-width="1"/>
<line x1="113.1" y1="462.3" x2="113.1" y2="477.7" stroke="#7a9a5a" stroke-width="1.1"/>
<line x1="110.5" y1="462.3" x2="115.7" y2="462.3" stroke="#7a9a5a" stroke-width="1.1"/>
<line x1="110.5" y1="477.7" x2="115.7" y2="477.7" stroke="#7a9a5a" stroke-width="1.1"/>
<polygon points="113.1,461.45 111.2,464.87 115,464.87" fill="#66a342" stroke="none" stroke-width="1"/>
<polygon points="113.1,465.45 111.2,468.87 115,468.87" fill="#66a342" stroke="none" stroke-width="1"/>
<polygon points="111.6,469.45 109.7,472.87 113.5,472.87" fill="#66a342" stroke="none" stroke-width="1"/>
<polygon points="114.6,469.95 112.7,473.37 116.5,473.37" fill="#66a342" stroke="none" stroke-width="1"/>
<polygon points="113.1,473.45 111.2,476.87 115,476.87" fill="#66a342" stroke="none" stroke-width="1"/>
<line x1="121.2" y1="466" x2="121.2" y2="475" stroke="#a3163f" stroke-width="1.1"/>
<line x1="118.6" y1="466" x2="123.8" y2="466" stroke="#a3163f" stroke-width="1.1"/>
<line x1="118.6" y1="475" x2="123.8" y2="475" stroke="#a3163f" stroke-width="1.1"/>
<line x1="117.2" y1="471" x2="125.2" y2="471" stroke="#a3163f" stroke-width="1.3"/>
<rect x="119.5" y="465.3" width="3.4" height="3.4" fill="#fff" stroke="#a3163f" stroke-width="1"/>
<rect x="119.5" y="468.8" width="3.4" height="3.4" fill="#fff" stroke="#a3163f" stroke-width="1"/>
<rect x="118.5" y="471.8" width="3.4" height="3.4" fill="#fff" stroke="#a3163f" stroke-width="1"/>
<rect x="120.5" y="469.8" width="3.4" height="3.4" fill="#fff" stroke="#a3163f" stroke-width="1"/>
<line x1="162.5" y1="444.1" x2="162.5" y2="517.7" stroke="#111111" stroke-width="1.5"/>
<line x1="159.5" y1="446.5" x2="162.5" y2="446.5" stroke="#111111" stroke-width="1.5"/>
<text x="155.5" y="449.25" font-size="8.2" text-anchor="end">10</text>
<line x1="159.5" y1="469.5" x2="162.5" y2="469.5" stroke="#111111" stroke-width="1.5"/>
<text x="155.5" y="472.85" font-size="8.2" text-anchor="end">1</text>
<line x1="159.5" y1="493.5" x2="162.5" y2="493.5" stroke="#111111" stroke-width="1.5"/>
<text x="155.5" y="496.45" font-size="8.2" text-anchor="end">0.1</text>
<line x1="159.5" y1="517.5" x2="162.5" y2="517.5" stroke="#111111" stroke-width="1.5"/>
<text x="155.5" y="520.05" font-size="8.2" text-anchor="end">0.01</text>
<line x1="160.7" y1="462.8" x2="162.5" y2="462.8" stroke="#111111" stroke-width="0.8"/>
<line x1="160.7" y1="458.64" x2="162.5" y2="458.64" stroke="#111111" stroke-width="0.8"/>
<line x1="160.7" y1="455.69" x2="162.5" y2="455.69" stroke="#111111" stroke-width="0.8"/>
<line x1="160.7" y1="453.4" x2="162.5" y2="453.4" stroke="#111111" stroke-width="0.8"/>
<line x1="160.7" y1="451.54" x2="162.5" y2="451.54" stroke="#111111" stroke-width="0.8"/>
<line x1="160.7" y1="449.96" x2="162.5" y2="449.96" stroke="#111111" stroke-width="0.8"/>
<line x1="160.7" y1="448.59" x2="162.5" y2="448.59" stroke="#111111" stroke-width="0.8"/>
<line x1="160.7" y1="447.38" x2="162.5" y2="447.38" stroke="#111111" stroke-width="0.8"/>
<line x1="160.7" y1="486.4" x2="162.5" y2="486.4" stroke="#111111" stroke-width="0.8"/>
<line x1="160.7" y1="482.24" x2="162.5" y2="482.24" stroke="#111111" stroke-width="0.8"/>
<line x1="160.7" y1="479.29" x2="162.5" y2="479.29" stroke="#111111" stroke-width="0.8"/>
<line x1="160.7" y1="477" x2="162.5" y2="477" stroke="#111111" stroke-width="0.8"/>
<line x1="160.7" y1="475.14" x2="162.5" y2="475.14" stroke="#111111" stroke-width="0.8"/>
<line x1="160.7" y1="473.56" x2="162.5" y2="473.56" stroke="#111111" stroke-width="0.8"/>
<line x1="160.7" y1="472.19" x2="162.5" y2="472.19" stroke="#111111" stroke-width="0.8"/>
<line x1="160.7" y1="470.98" x2="162.5" y2="470.98" stroke="#111111" stroke-width="0.8"/>
<line x1="160.7" y1="510" x2="162.5" y2="510" stroke="#111111" stroke-width="0.8"/>
<line x1="160.7" y1="505.84" x2="162.5" y2="505.84" stroke="#111111" stroke-width="0.8"/>
<line x1="160.7" y1="502.89" x2="162.5" y2="502.89" stroke="#111111" stroke-width="0.8"/>
<line x1="160.7" y1="500.6" x2="162.5" y2="500.6" stroke="#111111" stroke-width="0.8"/>
<line x1="160.7" y1="498.74" x2="162.5" y2="498.74" stroke="#111111" stroke-width="0.8"/>
<line x1="160.7" y1="497.16" x2="162.5" y2="497.16" stroke="#111111" stroke-width="0.8"/>
<line x1="160.7" y1="495.79" x2="162.5" y2="495.79" stroke="#111111" stroke-width="0.8"/>
<line x1="160.7" y1="494.58" x2="162.5" y2="494.58" stroke="#111111" stroke-width="0.8"/>
<line x1="161.4" y1="517.5" x2="246.5" y2="517.5" stroke="#111111" stroke-width="1.5"/>
<line x1="176.5" y1="517.5" x2="176.5" y2="520.5" stroke="#111111" stroke-width="1.5"/>
<line x1="204.5" y1="517.5" x2="204.5" y2="520.5" stroke="#111111" stroke-width="1.5"/>
<line x1="233.5" y1="517.5" x2="233.5" y2="520.5" stroke="#111111" stroke-width="1.5"/>
<text x="179.9" y="528" font-size="8.4" text-anchor="end" textLength="28" lengthAdjust="spacingAndGlyphs" transform="rotate(-45 179.9 528)">LT-HSC</text>
<text x="208.6" y="528" font-size="8.4" text-anchor="end" textLength="29.5" lengthAdjust="spacingAndGlyphs" transform="rotate(-45 208.6 528)">ST-HSC</text>
<text x="235.5" y="528" font-size="8.4" text-anchor="end" textLength="17" lengthAdjust="spacingAndGlyphs" transform="rotate(-45 235.5 528)">MPP</text>
<path d="M192,457.3 V451.2 H209.3 V454.7" stroke="#000" stroke-width="1.3" fill="none"/>
<circle cx="200.8" cy="447.8" r="1.05" fill="#1a1a1a" stroke="none" stroke-width="1"/>
<path d="M220.9,457.3 V451.2 H237.5 V454.7" stroke="#000" stroke-width="1.3" fill="none"/>
<circle cx="229.3" cy="447.8" r="1.05" fill="#1a1a1a" stroke="none" stroke-width="1"/>
<line x1="166.5" y1="479" x2="166.5" y2="490" stroke="#29426f" stroke-width="1.1"/>
<line x1="163.9" y1="479" x2="169.1" y2="479" stroke="#29426f" stroke-width="1.1"/>
<line x1="163.9" y1="490" x2="169.1" y2="490" stroke="#29426f" stroke-width="1.1"/>
<line x1="163.5" y1="484.5" x2="169.5" y2="484.5" stroke="#29426f" stroke-width="1.3"/>
<circle cx="166.5" cy="479.5" r="1.8" fill="#29426f" stroke="none" stroke-width="1"/>
<circle cx="164" cy="483.5" r="1.8" fill="#29426f" stroke="none" stroke-width="1"/>
<circle cx="169" cy="484.5" r="1.8" fill="#29426f" stroke="none" stroke-width="1"/>
<circle cx="166.5" cy="487" r="1.8" fill="#29426f" stroke="none" stroke-width="1"/>
<circle cx="168" cy="489.5" r="1.8" fill="#29426f" stroke="none" stroke-width="1"/>
<circle cx="165.5" cy="485.5" r="1.8" fill="#29426f" stroke="none" stroke-width="1"/>
<line x1="172.6" y1="488.5" x2="172.6" y2="493.5" stroke="#7a9a5a" stroke-width="1.1"/>
<line x1="170" y1="488.5" x2="175.2" y2="488.5" stroke="#7a9a5a" stroke-width="1.1"/>
<line x1="170" y1="493.5" x2="175.2" y2="493.5" stroke="#7a9a5a" stroke-width="1.1"/>
<line x1="169.6" y1="491" x2="175.6" y2="491" stroke="#7a9a5a" stroke-width="1.3"/>
<polygon points="172.6,488.45 170.7,491.87 174.5,491.87" fill="#66a342" stroke="none" stroke-width="1"/>
<polygon points="171.1,489.95 169.2,493.37 173,493.37" fill="#66a342" stroke="none" stroke-width="1"/>
<polygon points="174.1,487.45 172.2,490.87 176,490.87" fill="#66a342" stroke="none" stroke-width="1"/>
<line x1="179.1" y1="477.5" x2="179.1" y2="490.5" stroke="#a3163f" stroke-width="1.1"/>
<line x1="176.5" y1="477.5" x2="181.7" y2="477.5" stroke="#a3163f" stroke-width="1.1"/>
<line x1="176.5" y1="490.5" x2="181.7" y2="490.5" stroke="#a3163f" stroke-width="1.1"/>
<line x1="175.1" y1="484.3" x2="183.1" y2="484.3" stroke="#a3163f" stroke-width="1.3"/>
<rect x="175.4" y="476.8" width="3.4" height="3.4" fill="#fff" stroke="#a3163f" stroke-width="1"/>
<rect x="179.4" y="477.8" width="3.4" height="3.4" fill="#fff" stroke="#a3163f" stroke-width="1"/>
<rect x="177.4" y="482.8" width="3.4" height="3.4" fill="#fff" stroke="#a3163f" stroke-width="1"/>
<rect x="175.4" y="486.3" width="3.4" height="3.4" fill="#fff" stroke="#a3163f" stroke-width="1"/>
<rect x="179.4" y="488.8" width="3.4" height="3.4" fill="#fff" stroke="#a3163f" stroke-width="1"/>
<line x1="194.2" y1="470" x2="194.2" y2="485.5" stroke="#29426f" stroke-width="1.1"/>
<line x1="191.6" y1="470" x2="196.8" y2="470" stroke="#29426f" stroke-width="1.1"/>
<line x1="191.6" y1="485.5" x2="196.8" y2="485.5" stroke="#29426f" stroke-width="1.1"/>
<line x1="190.7" y1="477.2" x2="197.7" y2="477.2" stroke="#29426f" stroke-width="1.3"/>
<circle cx="194.2" cy="468.5" r="1.8" fill="#29426f" stroke="none" stroke-width="1"/>
<circle cx="191.7" cy="477.5" r="1.8" fill="#29426f" stroke="none" stroke-width="1"/>
<circle cx="196.7" cy="476.5" r="1.8" fill="#29426f" stroke="none" stroke-width="1"/>
<circle cx="194.2" cy="481.5" r="1.8" fill="#29426f" stroke="none" stroke-width="1"/>
<circle cx="194.2" cy="485.5" r="1.8" fill="#29426f" stroke="none" stroke-width="1"/>
<line x1="201.2" y1="462" x2="201.2" y2="486" stroke="#7a9a5a" stroke-width="1.1"/>
<line x1="198.6" y1="462" x2="203.8" y2="462" stroke="#7a9a5a" stroke-width="1.1"/>
<line x1="198.6" y1="486" x2="203.8" y2="486" stroke="#7a9a5a" stroke-width="1.1"/>
<line x1="197.7" y1="471.2" x2="204.7" y2="471.2" stroke="#7a9a5a" stroke-width="1.3"/>
<polygon points="201.2,460.45 199.3,463.87 203.1,463.87" fill="#66a342" stroke="none" stroke-width="1"/>
<polygon points="201.2,471.95 199.3,475.37 203.1,475.37" fill="#66a342" stroke="none" stroke-width="1"/>
<polygon points="201.2,483.95 199.3,487.37 203.1,487.37" fill="#66a342" stroke="none" stroke-width="1"/>
<line x1="207.8" y1="467.5" x2="207.8" y2="477.5" stroke="#a3163f" stroke-width="1.1"/>
<line x1="205.2" y1="467.5" x2="210.4" y2="467.5" stroke="#a3163f" stroke-width="1.1"/>
<line x1="205.2" y1="477.5" x2="210.4" y2="477.5" stroke="#a3163f" stroke-width="1.1"/>
<line x1="203.8" y1="472.6" x2="211.8" y2="472.6" stroke="#a3163f" stroke-width="1.3"/>
<rect x="206.1" y="466.8" width="3.4" height="3.4" fill="#fff" stroke="#a3163f" stroke-width="1"/>
<rect x="206.1" y="469.8" width="3.4" height="3.4" fill="#fff" stroke="#a3163f" stroke-width="1"/>
<rect x="206.1" y="472.8" width="3.4" height="3.4" fill="#fff" stroke="#a3163f" stroke-width="1"/>
<rect x="206.1" y="475.3" width="3.4" height="3.4" fill="#fff" stroke="#a3163f" stroke-width="1"/>
<line x1="222.3" y1="471" x2="222.3" y2="476.5" stroke="#29426f" stroke-width="1.1"/>
<line x1="219.7" y1="471" x2="224.9" y2="471" stroke="#29426f" stroke-width="1.1"/>
<line x1="219.7" y1="476.5" x2="224.9" y2="476.5" stroke="#29426f" stroke-width="1.1"/>
<line x1="218.8" y1="473.2" x2="225.8" y2="473.2" stroke="#29426f" stroke-width="1.3"/>
<circle cx="219.3" cy="472" r="1.8" fill="#29426f" stroke="none" stroke-width="1"/>
<circle cx="222.3" cy="472.5" r="1.8" fill="#29426f" stroke="none" stroke-width="1"/>
<circle cx="225.3" cy="473.5" r="1.8" fill="#29426f" stroke="none" stroke-width="1"/>
<circle cx="222.3" cy="476" r="1.8" fill="#29426f" stroke="none" stroke-width="1"/>
<circle cx="220.3" cy="475" r="1.8" fill="#29426f" stroke="none" stroke-width="1"/>
<line x1="230.3" y1="473.5" x2="230.3" y2="483" stroke="#7a9a5a" stroke-width="1.1"/>
<line x1="227.7" y1="473.5" x2="232.9" y2="473.5" stroke="#7a9a5a" stroke-width="1.1"/>
<line x1="227.7" y1="483" x2="232.9" y2="483" stroke="#7a9a5a" stroke-width="1.1"/>
<line x1="226.8" y1="477.2" x2="233.8" y2="477.2" stroke="#7a9a5a" stroke-width="1.3"/>
<polygon points="230.3,471.95 228.4,475.37 232.2,475.37" fill="#66a342" stroke="none" stroke-width="1"/>
<polygon points="230.3,477.45 228.4,480.87 232.2,480.87" fill="#66a342" stroke="none" stroke-width="1"/>
<polygon points="230.3,480.95 228.4,484.37 232.2,484.37" fill="#66a342" stroke="none" stroke-width="1"/>
<line x1="236.3" y1="464.5" x2="236.3" y2="476.5" stroke="#a3163f" stroke-width="1.1"/>
<line x1="233.7" y1="464.5" x2="238.9" y2="464.5" stroke="#a3163f" stroke-width="1.1"/>
<line x1="233.7" y1="476.5" x2="238.9" y2="476.5" stroke="#a3163f" stroke-width="1.1"/>
<line x1="232.3" y1="471.2" x2="240.3" y2="471.2" stroke="#a3163f" stroke-width="1.3"/>
<rect x="234.6" y="463.3" width="3.4" height="3.4" fill="#fff" stroke="#a3163f" stroke-width="1"/>
<rect x="234.6" y="467.3" width="3.4" height="3.4" fill="#fff" stroke="#a3163f" stroke-width="1"/>
<rect x="234.6" y="470.8" width="3.4" height="3.4" fill="#fff" stroke="#a3163f" stroke-width="1"/>
<rect x="234.6" y="474.3" width="3.4" height="3.4" fill="#fff" stroke="#a3163f" stroke-width="1"/>
<line x1="274.5" y1="443.9" x2="274.5" y2="517.71" stroke="#111111" stroke-width="1.5"/>
<line x1="271.5" y1="446.5" x2="274.5" y2="446.5" stroke="#111111" stroke-width="1.5"/>
<text x="268.1" y="449.05" font-size="8.2" text-anchor="end">100</text>
<line x1="271.5" y1="469.5" x2="274.5" y2="469.5" stroke="#111111" stroke-width="1.5"/>
<text x="268.1" y="472.72" font-size="8.2" text-anchor="end">10</text>
<line x1="271.5" y1="493.5" x2="274.5" y2="493.5" stroke="#111111" stroke-width="1.5"/>
<text x="268.1" y="496.39" font-size="8.2" text-anchor="end">1</text>
<line x1="271.5" y1="517.5" x2="274.5" y2="517.5" stroke="#111111" stroke-width="1.5"/>
<text x="268.1" y="520.06" font-size="8.2" text-anchor="end">0.1</text>
<line x1="272.7" y1="462.64" x2="274.5" y2="462.64" stroke="#111111" stroke-width="0.8"/>
<line x1="272.7" y1="458.48" x2="274.5" y2="458.48" stroke="#111111" stroke-width="0.8"/>
<line x1="272.7" y1="455.52" x2="274.5" y2="455.52" stroke="#111111" stroke-width="0.8"/>
<line x1="272.7" y1="453.23" x2="274.5" y2="453.23" stroke="#111111" stroke-width="0.8"/>
<line x1="272.7" y1="451.35" x2="274.5" y2="451.35" stroke="#111111" stroke-width="0.8"/>
<line x1="272.7" y1="449.77" x2="274.5" y2="449.77" stroke="#111111" stroke-width="0.8"/>
<line x1="272.7" y1="448.39" x2="274.5" y2="448.39" stroke="#111111" stroke-width="0.8"/>
<line x1="272.7" y1="447.18" x2="274.5" y2="447.18" stroke="#111111" stroke-width="0.8"/>
<line x1="272.7" y1="486.31" x2="274.5" y2="486.31" stroke="#111111" stroke-width="0.8"/>
<line x1="272.7" y1="482.15" x2="274.5" y2="482.15" stroke="#111111" stroke-width="0.8"/>
<line x1="272.7" y1="479.19" x2="274.5" y2="479.19" stroke="#111111" stroke-width="0.8"/>
<line x1="272.7" y1="476.9" x2="274.5" y2="476.9" stroke="#111111" stroke-width="0.8"/>
<line x1="272.7" y1="475.02" x2="274.5" y2="475.02" stroke="#111111" stroke-width="0.8"/>
<line x1="272.7" y1="473.44" x2="274.5" y2="473.44" stroke="#111111" stroke-width="0.8"/>
<line x1="272.7" y1="472.06" x2="274.5" y2="472.06" stroke="#111111" stroke-width="0.8"/>
<line x1="272.7" y1="470.85" x2="274.5" y2="470.85" stroke="#111111" stroke-width="0.8"/>
<line x1="272.7" y1="509.98" x2="274.5" y2="509.98" stroke="#111111" stroke-width="0.8"/>
<line x1="272.7" y1="505.82" x2="274.5" y2="505.82" stroke="#111111" stroke-width="0.8"/>
<line x1="272.7" y1="502.86" x2="274.5" y2="502.86" stroke="#111111" stroke-width="0.8"/>
<line x1="272.7" y1="500.57" x2="274.5" y2="500.57" stroke="#111111" stroke-width="0.8"/>
<line x1="272.7" y1="498.69" x2="274.5" y2="498.69" stroke="#111111" stroke-width="0.8"/>
<line x1="272.7" y1="497.11" x2="274.5" y2="497.11" stroke="#111111" stroke-width="0.8"/>
<line x1="272.7" y1="495.73" x2="274.5" y2="495.73" stroke="#111111" stroke-width="0.8"/>
<line x1="272.7" y1="494.52" x2="274.5" y2="494.52" stroke="#111111" stroke-width="0.8"/>
<line x1="273.4" y1="517.5" x2="360.4" y2="517.5" stroke="#111111" stroke-width="1.5"/>
<line x1="287.5" y1="517.5" x2="287.5" y2="520.5" stroke="#111111" stroke-width="1.5"/>
<line x1="316.5" y1="517.5" x2="316.5" y2="520.5" stroke="#111111" stroke-width="1.5"/>
<line x1="345.5" y1="517.5" x2="345.5" y2="520.5" stroke="#111111" stroke-width="1.5"/>
<text x="287.8" y="530.8" font-size="8.4" text-anchor="middle" textLength="18.6" lengthAdjust="spacingAndGlyphs">CMP</text>
<text x="316" y="530.8" font-size="8.4" text-anchor="middle" textLength="19.3" lengthAdjust="spacingAndGlyphs">GMP</text>
<text x="345.3" y="530.8" font-size="8.4" text-anchor="middle" textLength="17.9" lengthAdjust="spacingAndGlyphs">MEP</text>
<path d="M332.5,451.7 V447.9 H342.1 V451.7" stroke="#000" stroke-width="1.3" fill="none"/>
<circle cx="337.5" cy="443.7" r="1.05" fill="#1a1a1a" stroke="none" stroke-width="1"/>
<line x1="278.5" y1="472" x2="278.5" y2="483.5" stroke="#29426f" stroke-width="1.1"/>
<line x1="275.9" y1="472" x2="281.1" y2="472" stroke="#29426f" stroke-width="1.1"/>
<line x1="275.9" y1="483.5" x2="281.1" y2="483.5" stroke="#29426f" stroke-width="1.1"/>
<line x1="275.5" y1="477" x2="281.5" y2="477" stroke="#29426f" stroke-width="1.3"/>
<circle cx="278.5" cy="472.5" r="1.8" fill="#29426f" stroke="none" stroke-width="1"/>
<circle cx="276" cy="476.5" r="1.8" fill="#29426f" stroke="none" stroke-width="1"/>
<circle cx="281" cy="475" r="1.8" fill="#29426f" stroke="none" stroke-width="1"/>
<circle cx="278.5" cy="479.5" r="1.8" fill="#29426f" stroke="none" stroke-width="1"/>
<circle cx="277.5" cy="483" r="1.8" fill="#29426f" stroke="none" stroke-width="1"/>
<circle cx="280.5" cy="481" r="1.8" fill="#29426f" stroke="none" stroke-width="1"/>
<line x1="284.5" y1="460.8" x2="284.5" y2="495.4" stroke="#66a342" stroke-width="1.2"/>
<polygon points="284.5,459.95 282.6,463.37 286.4,463.37" fill="#66a342" stroke="none" stroke-width="1"/>
<polygon points="284.5,467.95 282.6,471.37 286.4,471.37" fill="#66a342" stroke="none" stroke-width="1"/>
<polygon points="284.5,474.95 282.6,478.37 286.4,478.37" fill="#66a342" stroke="none" stroke-width="1"/>
<polygon points="284.5,482.45 282.6,485.87 286.4,485.87" fill="#66a342" stroke="none" stroke-width="1"/>
<polygon points="284.5,491.45 282.6,494.87 286.4,494.87" fill="#66a342" stroke="none" stroke-width="1"/>
<line x1="290.9" y1="455.1" x2="290.9" y2="480.8" stroke="#a3163f" stroke-width="1.2"/>
<rect x="289.2" y="453.4" width="3.4" height="3.4" fill="#fff" stroke="#a3163f" stroke-width="1"/>
<rect x="289.2" y="466.3" width="3.4" height="3.4" fill="#fff" stroke="#a3163f" stroke-width="1"/>
<rect x="289.2" y="470.6" width="3.4" height="3.4" fill="#fff" stroke="#a3163f" stroke-width="1"/>
<rect x="289.2" y="474.9" width="3.4" height="3.4" fill="#fff" stroke="#a3163f" stroke-width="1"/>
<rect x="289.2" y="479.1" width="3.4" height="3.4" fill="#fff" stroke="#a3163f" stroke-width="1"/>
<circle cx="303.3" cy="463" r="1.8" fill="#29426f" stroke="none" stroke-width="1"/>
<circle cx="305.3" cy="462" r="1.8" fill="#29426f" stroke="none" stroke-width="1"/>
<circle cx="307.3" cy="463.5" r="1.8" fill="#29426f" stroke="none" stroke-width="1"/>
<circle cx="309.3" cy="464" r="1.8" fill="#29426f" stroke="none" stroke-width="1"/>
<circle cx="306.3" cy="465" r="1.8" fill="#29426f" stroke="none" stroke-width="1"/>
<line x1="313.2" y1="452.3" x2="313.2" y2="470" stroke="#66a342" stroke-width="1.2"/>
<polygon points="313.2,451.45 311.3,454.87 315.1,454.87" fill="#66a342" stroke="none" stroke-width="1"/>
<polygon points="313.2,456.45 311.3,459.87 315.1,459.87" fill="#66a342" stroke="none" stroke-width="1"/>
<polygon points="313.2,461.45 311.3,464.87 315.1,464.87" fill="#66a342" stroke="none" stroke-width="1"/>
<polygon points="313.2,466.45 311.3,469.87 315.1,469.87" fill="#66a342" stroke="none" stroke-width="1"/>
<line x1="319.8" y1="455.5" x2="319.8" y2="461.5" stroke="#a3163f" stroke-width="1.1"/>
<line x1="317.2" y1="455.5" x2="322.4" y2="455.5" stroke="#a3163f" stroke-width="1.1"/>
<line x1="317.2" y1="461.5" x2="322.4" y2="461.5" stroke="#a3163f" stroke-width="1.1"/>
<line x1="315.3" y1="458.5" x2="324.3" y2="458.5" stroke="#a3163f" stroke-width="1.3"/>
<rect x="315.1" y="456.3" width="3.4" height="3.4" fill="#fff" stroke="#a3163f" stroke-width="1"/>
<rect x="318.1" y="454.8" width="3.4" height="3.4" fill="#fff" stroke="#a3163f" stroke-width="1"/>
<rect x="321.1" y="456.8" width="3.4" height="3.4" fill="#fff" stroke="#a3163f" stroke-width="1"/>
<rect x="318.1" y="458.8" width="3.4" height="3.4" fill="#fff" stroke="#a3163f" stroke-width="1"/>
<line x1="335.4" y1="453.7" x2="335.4" y2="464.2" stroke="#29426f" stroke-width="1.1"/>
<line x1="332.8" y1="453.7" x2="338" y2="453.7" stroke="#29426f" stroke-width="1.1"/>
<line x1="332.8" y1="464.2" x2="338" y2="464.2" stroke="#29426f" stroke-width="1.1"/>
<line x1="332.4" y1="456.5" x2="338.4" y2="456.5" stroke="#29426f" stroke-width="1.3"/>
<circle cx="332.9" cy="456" r="1.8" fill="#29426f" stroke="none" stroke-width="1"/>
<circle cx="335.4" cy="455" r="1.8" fill="#29426f" stroke="none" stroke-width="1"/>
<circle cx="337.9" cy="454" r="1.8" fill="#29426f" stroke="none" stroke-width="1"/>
<circle cx="335.4" cy="475.8" r="1.8" fill="#29426f" stroke="none" stroke-width="1"/>
<line x1="341.7" y1="458.5" x2="341.7" y2="485.4" stroke="#66a342" stroke-width="1.3"/>
<polygon points="341.7,457.45 339.8,460.87 343.6,460.87" fill="#66a342" stroke="none" stroke-width="1"/>
<polygon points="341.7,461.45 339.8,464.87 343.6,464.87" fill="#66a342" stroke="none" stroke-width="1"/>
<polygon points="341.7,465.45 339.8,468.87 343.6,468.87" fill="#66a342" stroke="none" stroke-width="1"/>
<polygon points="341.7,469.45 339.8,472.87 343.6,472.87" fill="#66a342" stroke="none" stroke-width="1"/>
<polygon points="341.7,473.45 339.8,476.87 343.6,476.87" fill="#66a342" stroke="none" stroke-width="1"/>
<polygon points="341.7,477.45 339.8,480.87 343.6,480.87" fill="#66a342" stroke="none" stroke-width="1"/>
<polygon points="341.7,481.95 339.8,485.37 343.6,485.37" fill="#66a342" stroke="none" stroke-width="1"/>
<rect x="346.2" y="449.3" width="3.4" height="3.4" fill="#fff" stroke="#a3163f" stroke-width="1"/>
<rect x="344.7" y="452.8" width="3.4" height="3.4" fill="#fff" stroke="#a3163f" stroke-width="1"/>
<rect x="347.7" y="455.8" width="3.4" height="3.4" fill="#fff" stroke="#a3163f" stroke-width="1"/>
<rect x="348.2" y="459.3" width="3.4" height="3.4" fill="#fff" stroke="#a3163f" stroke-width="1"/>
<rect x="346.2" y="474.1" width="3.4" height="3.4" fill="#fff" stroke="#a3163f" stroke-width="1"/>
<circle cx="369.6" cy="472.3" r="1.6" fill="#29426f" stroke="none" stroke-width="1"/>
<text x="374.8" y="475" font-size="8.4" fill="#29426f" textLength="22.6" lengthAdjust="spacingAndGlyphs">Ren 1°</text>
<polygon points="369.6,479.77 368,482.65 371.2,482.65" fill="#66a342" stroke="none" stroke-width="1"/>
<text x="374.8" y="484.1" font-size="8.4" fill="#66a342" textLength="37.1" lengthAdjust="spacingAndGlyphs">Cux1<tspan font-size="5.8" dy="-3.2">mid</tspan><tspan dy="3.2"> 1°</tspan></text>
<rect x="368.1" y="488.7" width="3" height="3" fill="#fff" stroke="#a3163f" stroke-width="0.9"/>
<text x="374.8" y="492.8" font-size="8.4" fill="#a3163f" textLength="35.6" lengthAdjust="spacingAndGlyphs">Cux1<tspan font-size="5.8" dy="-3.2">low</tspan><tspan dy="3.2"> 1°</tspan></text>
<text x="12.7" y="575.4" font-size="12.2" font-weight="bold" fill="#000">G</text>
<text x="195.2" y="576.8" font-size="10.2" text-anchor="middle" font-weight="bold" fill="#000" textLength="183.7" lengthAdjust="spacingAndGlyphs">1° BMT bone marrow at euthanization</text>
<text x="21.4" y="620.9" font-size="8.8" text-anchor="middle" textLength="68.2" lengthAdjust="spacingAndGlyphs" transform="rotate(-90 21.4 620.9)">Absolute cell count</text>
<text x="33.3" y="621" font-size="8.8" text-anchor="middle" textLength="24.5" lengthAdjust="spacingAndGlyphs" transform="rotate(-90 33.3 621)">(x 10<tspan font-size="5.6" dy="-3.2">5</tspan><tspan dy="3.2">)</tspan></text>
<line x1="65.5" y1="584.5" x2="65.5" y2="658.5" stroke="#111111" stroke-width="1.5"/>
<line x1="62.5" y1="586.5" x2="65.5" y2="586.5" stroke="#111111" stroke-width="1.5"/>
<text x="59.8" y="589.65" font-size="8.2" text-anchor="end">1000</text>
<line x1="62.5" y1="604.5" x2="65.5" y2="604.5" stroke="#111111" stroke-width="1.5"/>
<text x="59.8" y="607.45" font-size="8.2" text-anchor="end">100</text>
<line x1="62.5" y1="622.5" x2="65.5" y2="622.5" stroke="#111111" stroke-width="1.5"/>
<text x="59.8" y="625.25" font-size="8.2" text-anchor="end">10</text>
<line x1="62.5" y1="640.5" x2="65.5" y2="640.5" stroke="#111111" stroke-width="1.5"/>
<text x="59.8" y="643.05" font-size="8.2" text-anchor="end">1</text>
<line x1="62.5" y1="657.5" x2="65.5" y2="657.5" stroke="#111111" stroke-width="1.5"/>
<text x="59.8" y="660.85" font-size="8.2" text-anchor="end">0.1</text>
<line x1="63.7" y1="599.14" x2="65.5" y2="599.14" stroke="#111111" stroke-width="0.8"/>
<line x1="63.7" y1="596.01" x2="65.5" y2="596.01" stroke="#111111" stroke-width="0.8"/>
<line x1="63.7" y1="593.78" x2="65.5" y2="593.78" stroke="#111111" stroke-width="0.8"/>
<line x1="63.7" y1="592.06" x2="65.5" y2="592.06" stroke="#111111" stroke-width="0.8"/>
<line x1="63.7" y1="590.65" x2="65.5" y2="590.65" stroke="#111111" stroke-width="0.8"/>
<line x1="63.7" y1="589.46" x2="65.5" y2="589.46" stroke="#111111" stroke-width="0.8"/>
<line x1="63.7" y1="588.42" x2="65.5" y2="588.42" stroke="#111111" stroke-width="0.8"/>
<line x1="63.7" y1="587.51" x2="65.5" y2="587.51" stroke="#111111" stroke-width="0.8"/>
<line x1="63.7" y1="616.94" x2="65.5" y2="616.94" stroke="#111111" stroke-width="0.8"/>
<line x1="63.7" y1="613.81" x2="65.5" y2="613.81" stroke="#111111" stroke-width="0.8"/>
<line x1="63.7" y1="611.58" x2="65.5" y2="611.58" stroke="#111111" stroke-width="0.8"/>
<line x1="63.7" y1="609.86" x2="65.5" y2="609.86" stroke="#111111" stroke-width="0.8"/>
<line x1="63.7" y1="608.45" x2="65.5" y2="608.45" stroke="#111111" stroke-width="0.8"/>
<line x1="63.7" y1="607.26" x2="65.5" y2="607.26" stroke="#111111" stroke-width="0.8"/>
<line x1="63.7" y1="606.22" x2="65.5" y2="606.22" stroke="#111111" stroke-width="0.8"/>
<line x1="63.7" y1="605.31" x2="65.5" y2="605.31" stroke="#111111" stroke-width="0.8"/>
<line x1="63.7" y1="634.74" x2="65.5" y2="634.74" stroke="#111111" stroke-width="0.8"/>
<line x1="63.7" y1="631.61" x2="65.5" y2="631.61" stroke="#111111" stroke-width="0.8"/>
<line x1="63.7" y1="629.38" x2="65.5" y2="629.38" stroke="#111111" stroke-width="0.8"/>
<line x1="63.7" y1="627.66" x2="65.5" y2="627.66" stroke="#111111" stroke-width="0.8"/>
<line x1="63.7" y1="626.25" x2="65.5" y2="626.25" stroke="#111111" stroke-width="0.8"/>
<line x1="63.7" y1="625.06" x2="65.5" y2="625.06" stroke="#111111" stroke-width="0.8"/>
<line x1="63.7" y1="624.02" x2="65.5" y2="624.02" stroke="#111111" stroke-width="0.8"/>
<line x1="63.7" y1="623.11" x2="65.5" y2="623.11" stroke="#111111" stroke-width="0.8"/>
<line x1="63.7" y1="652.54" x2="65.5" y2="652.54" stroke="#111111" stroke-width="0.8"/>
<line x1="63.7" y1="649.41" x2="65.5" y2="649.41" stroke="#111111" stroke-width="0.8"/>
<line x1="63.7" y1="647.18" x2="65.5" y2="647.18" stroke="#111111" stroke-width="0.8"/>
<line x1="63.7" y1="645.46" x2="65.5" y2="645.46" stroke="#111111" stroke-width="0.8"/>
<line x1="63.7" y1="644.05" x2="65.5" y2="644.05" stroke="#111111" stroke-width="0.8"/>
<line x1="63.7" y1="642.86" x2="65.5" y2="642.86" stroke="#111111" stroke-width="0.8"/>
<line x1="63.7" y1="641.82" x2="65.5" y2="641.82" stroke="#111111" stroke-width="0.8"/>
<line x1="63.7" y1="640.91" x2="65.5" y2="640.91" stroke="#111111" stroke-width="0.8"/>
<line x1="64.5" y1="657.5" x2="124.4" y2="657.5" stroke="#111111" stroke-width="1.5"/>
<line x1="83.5" y1="657.5" x2="83.5" y2="660.5" stroke="#111111" stroke-width="1.5"/>
<line x1="111.5" y1="657.5" x2="111.5" y2="660.5" stroke="#111111" stroke-width="1.5"/>
<text x="83.4" y="672" font-size="8.4" text-anchor="middle" textLength="13.5" lengthAdjust="spacingAndGlyphs">LSK</text>
<text x="111.3" y="672" font-size="8.4" text-anchor="middle" textLength="11.5" lengthAdjust="spacingAndGlyphs">MP</text>
<path d="M75.2,623.8 V620.4 H91.3 V627.3" stroke="#000" stroke-width="1.3" fill="none"/>
<circle cx="83.3" cy="616.7" r="1.05" fill="#1a1a1a" stroke="none" stroke-width="1"/>
<path d="M103.5,599 V591.5 H119.8 V607.7" stroke="#000" stroke-width="1.3" fill="none"/>
<path d="M103.5,599 H111.3 V604.8" stroke="#000" stroke-width="1.3" fill="none"/>
<circle cx="111.8" cy="587.8" r="1.05" fill="#1a1a1a" stroke="none" stroke-width="1"/>
<circle cx="107.5" cy="595" r="1.05" fill="#1a1a1a" stroke="none" stroke-width="1"/>
<circle cx="72.5" cy="642.5" r="1.8" fill="#29426f" stroke="none" stroke-width="1"/>
<circle cx="75" cy="641.5" r="1.8" fill="#29426f" stroke="none" stroke-width="1"/>
<circle cx="77.5" cy="643" r="1.8" fill="#29426f" stroke="none" stroke-width="1"/>
<circle cx="72.5" cy="646" r="1.8" fill="#29426f" stroke="none" stroke-width="1"/>
<circle cx="75" cy="647" r="1.8" fill="#29426f" stroke="none" stroke-width="1"/>
<circle cx="77.5" cy="646.5" r="1.8" fill="#29426f" stroke="none" stroke-width="1"/>
<circle cx="74" cy="650" r="1.8" fill="#29426f" stroke="none" stroke-width="1"/>
<circle cx="76.5" cy="649.5" r="1.8" fill="#29426f" stroke="none" stroke-width="1"/>
<line x1="83.1" y1="642" x2="83.1" y2="648.5" stroke="#66a342" stroke-width="1.6"/>
<polygon points="83.1,641.02 80.8,645.16 85.4,645.16" fill="#66a342" stroke="none" stroke-width="1"/>
<polygon points="83.1,644.23 81,648.01 85.2,648.01" fill="#66a342" stroke="none" stroke-width="1"/>
<line x1="90.4" y1="646" x2="90.4" y2="657" stroke="#a3163f" stroke-width="1.1"/>
<line x1="87.8" y1="646" x2="93" y2="646" stroke="#a3163f" stroke-width="1.1"/>
<line x1="87.8" y1="657" x2="93" y2="657" stroke="#a3163f" stroke-width="1.1"/>
<line x1="86.4" y1="650.2" x2="94.4" y2="650.2" stroke="#a3163f" stroke-width="1.3"/>
<rect x="86.7" y="645.3" width="3.4" height="3.4" fill="#fff" stroke="#a3163f" stroke-width="1"/>
<rect x="90.7" y="644.8" width="3.4" height="3.4" fill="#fff" stroke="#a3163f" stroke-width="1"/>
<rect x="88.7" y="648.8" width="3.4" height="3.4" fill="#fff" stroke="#a3163f" stroke-width="1"/>
<rect x="88.7" y="652.8" width="3.4" height="3.4" fill="#fff" stroke="#a3163f" stroke-width="1"/>
<line x1="103.8" y1="610.2" x2="103.8" y2="620.8" stroke="#29426f" stroke-width="1.2"/>
<circle cx="103.8" cy="610.2" r="1.8" fill="#29426f" stroke="none" stroke-width="1"/>
<circle cx="103.8" cy="613" r="1.8" fill="#29426f" stroke="none" stroke-width="1"/>
<circle cx="103.8" cy="616" r="1.8" fill="#29426f" stroke="none" stroke-width="1"/>
<circle cx="103.8" cy="618.5" r="1.8" fill="#29426f" stroke="none" stroke-width="1"/>
<circle cx="103.8" cy="620.8" r="1.8" fill="#29426f" stroke="none" stroke-width="1"/>
<polygon points="111,622.1 108.5,626.6 113.5,626.6" fill="#66a342" stroke="none" stroke-width="1"/>
<line x1="119.6" y1="616.2" x2="119.6" y2="647.3" stroke="#a3163f" stroke-width="1.1"/>
<line x1="117" y1="616.2" x2="122.2" y2="616.2" stroke="#a3163f" stroke-width="1.1"/>
<line x1="117" y1="647.3" x2="122.2" y2="647.3" stroke="#a3163f" stroke-width="1.1"/>
<line x1="115.6" y1="623.3" x2="123.6" y2="623.3" stroke="#a3163f" stroke-width="1.3"/>
<rect x="118.9" y="614.8" width="3.4" height="3.4" fill="#fff" stroke="#a3163f" stroke-width="1"/>
<rect x="115.9" y="621.3" width="3.4" height="3.4" fill="#fff" stroke="#a3163f" stroke-width="1"/>
<rect x="118.9" y="621.8" width="3.4" height="3.4" fill="#fff" stroke="#a3163f" stroke-width="1"/>
<rect x="117.9" y="632.1" width="3.4" height="3.4" fill="#fff" stroke="#a3163f" stroke-width="1"/>
<line x1="154.5" y1="584.3" x2="154.5" y2="658.2" stroke="#111111" stroke-width="1.5"/>
<line x1="151.5" y1="586.5" x2="154.5" y2="586.5" stroke="#111111" stroke-width="1.5"/>
<text x="148.1" y="589.45" font-size="8.2" text-anchor="end">10</text>
<line x1="151.5" y1="610.5" x2="154.5" y2="610.5" stroke="#111111" stroke-width="1.5"/>
<text x="148.1" y="613.15" font-size="8.2" text-anchor="end">1</text>
<line x1="151.5" y1="633.5" x2="154.5" y2="633.5" stroke="#111111" stroke-width="1.5"/>
<text x="148.1" y="636.85" font-size="8.2" text-anchor="end">0.1</text>
<line x1="151.5" y1="657.5" x2="154.5" y2="657.5" stroke="#111111" stroke-width="1.5"/>
<text x="148.1" y="660.55" font-size="8.2" text-anchor="end">0.01</text>
<line x1="152.7" y1="603.07" x2="154.5" y2="603.07" stroke="#111111" stroke-width="0.8"/>
<line x1="152.7" y1="598.89" x2="154.5" y2="598.89" stroke="#111111" stroke-width="0.8"/>
<line x1="152.7" y1="595.93" x2="154.5" y2="595.93" stroke="#111111" stroke-width="0.8"/>
<line x1="152.7" y1="593.63" x2="154.5" y2="593.63" stroke="#111111" stroke-width="0.8"/>
<line x1="152.7" y1="591.76" x2="154.5" y2="591.76" stroke="#111111" stroke-width="0.8"/>
<line x1="152.7" y1="590.17" x2="154.5" y2="590.17" stroke="#111111" stroke-width="0.8"/>
<line x1="152.7" y1="588.8" x2="154.5" y2="588.8" stroke="#111111" stroke-width="0.8"/>
<line x1="152.7" y1="587.58" x2="154.5" y2="587.58" stroke="#111111" stroke-width="0.8"/>
<line x1="152.7" y1="626.77" x2="154.5" y2="626.77" stroke="#111111" stroke-width="0.8"/>
<line x1="152.7" y1="622.59" x2="154.5" y2="622.59" stroke="#111111" stroke-width="0.8"/>
<line x1="152.7" y1="619.63" x2="154.5" y2="619.63" stroke="#111111" stroke-width="0.8"/>
<line x1="152.7" y1="617.33" x2="154.5" y2="617.33" stroke="#111111" stroke-width="0.8"/>
<line x1="152.7" y1="615.46" x2="154.5" y2="615.46" stroke="#111111" stroke-width="0.8"/>
<line x1="152.7" y1="613.87" x2="154.5" y2="613.87" stroke="#111111" stroke-width="0.8"/>
<line x1="152.7" y1="612.5" x2="154.5" y2="612.5" stroke="#111111" stroke-width="0.8"/>
<line x1="152.7" y1="611.28" x2="154.5" y2="611.28" stroke="#111111" stroke-width="0.8"/>
<line x1="152.7" y1="650.47" x2="154.5" y2="650.47" stroke="#111111" stroke-width="0.8"/>
<line x1="152.7" y1="646.29" x2="154.5" y2="646.29" stroke="#111111" stroke-width="0.8"/>
<line x1="152.7" y1="643.33" x2="154.5" y2="643.33" stroke="#111111" stroke-width="0.8"/>
<line x1="152.7" y1="641.03" x2="154.5" y2="641.03" stroke="#111111" stroke-width="0.8"/>
<line x1="152.7" y1="639.16" x2="154.5" y2="639.16" stroke="#111111" stroke-width="0.8"/>
<line x1="152.7" y1="637.57" x2="154.5" y2="637.57" stroke="#111111" stroke-width="0.8"/>
<line x1="152.7" y1="636.2" x2="154.5" y2="636.2" stroke="#111111" stroke-width="0.8"/>
<line x1="152.7" y1="634.98" x2="154.5" y2="634.98" stroke="#111111" stroke-width="0.8"/>
<line x1="154" y1="657.5" x2="234.9" y2="657.5" stroke="#111111" stroke-width="1.5"/>
<line x1="170.5" y1="657.5" x2="170.5" y2="660.5" stroke="#111111" stroke-width="1.5"/>
<line x1="195.5" y1="657.5" x2="195.5" y2="660.5" stroke="#111111" stroke-width="1.5"/>
<line x1="221.5" y1="657.5" x2="221.5" y2="660.5" stroke="#111111" stroke-width="1.5"/>
<text x="174.8" y="668.5" font-size="8.4" text-anchor="end" textLength="27.5" lengthAdjust="spacingAndGlyphs" transform="rotate(-45 174.8 668.5)">LT-HSC</text>
<text x="200" y="668.5" font-size="8.4" text-anchor="end" textLength="29" lengthAdjust="spacingAndGlyphs" transform="rotate(-45 200 668.5)">ST-HSC</text>
<text x="225.8" y="669.3" font-size="8.4" text-anchor="end" textLength="17" lengthAdjust="spacingAndGlyphs" transform="rotate(-45 225.8 669.3)">MPP</text>
<text x="170.8" y="589.9" font-size="8.2" text-anchor="middle" textLength="25" lengthAdjust="spacingAndGlyphs"><tspan font-style="italic">p</tspan>=0.07</text>
<path d="M163.5,594.6 V592.3 H178.4 V598.5" stroke="#000" stroke-width="1.3" fill="none"/>
<circle cx="195.8" cy="586.9" r="1.05" fill="#1a1a1a" stroke="none" stroke-width="1"/>
<path d="M188.8,594.6 V592.3 H203.5 V598.5" stroke="#000" stroke-width="1.3" fill="none"/>
<text x="220.8" y="589.9" font-size="8.2" text-anchor="middle" textLength="24" lengthAdjust="spacingAndGlyphs"><tspan font-style="italic">p</tspan>=0.07</text>
<path d="M214.2,594.6 V592.3 H229.6 V598.5" stroke="#000" stroke-width="1.3" fill="none"/>
<line x1="163.2" y1="628.8" x2="163.2" y2="647.4" stroke="#29426f" stroke-width="1.1"/>
<line x1="160.6" y1="628.8" x2="165.8" y2="628.8" stroke="#29426f" stroke-width="1.1"/>
<line x1="160.6" y1="647.4" x2="165.8" y2="647.4" stroke="#29426f" stroke-width="1.1"/>
<line x1="160.2" y1="635.6" x2="166.2" y2="635.6" stroke="#29426f" stroke-width="1.3"/>
<circle cx="163.2" cy="629.5" r="1.8" fill="#29426f" stroke="none" stroke-width="1"/>
<circle cx="161.2" cy="633" r="1.8" fill="#29426f" stroke="none" stroke-width="1"/>
<circle cx="165.2" cy="636" r="1.8" fill="#29426f" stroke="none" stroke-width="1"/>
<circle cx="163.2" cy="639.5" r="1.8" fill="#29426f" stroke="none" stroke-width="1"/>
<circle cx="163.2" cy="643" r="1.8" fill="#29426f" stroke="none" stroke-width="1"/>
<circle cx="163.2" cy="646.5" r="1.8" fill="#29426f" stroke="none" stroke-width="1"/>
<line x1="170.5" y1="633.5" x2="170.5" y2="640" stroke="#7a9a5a" stroke-width="1.1"/>
<line x1="167.9" y1="633.5" x2="173.1" y2="633.5" stroke="#7a9a5a" stroke-width="1.1"/>
<line x1="167.9" y1="640" x2="173.1" y2="640" stroke="#7a9a5a" stroke-width="1.1"/>
<line x1="168" y1="636.6" x2="173" y2="636.6" stroke="#7a9a5a" stroke-width="1.3"/>
<polygon points="170.5,632.45 168.6,635.87 172.4,635.87" fill="#66a342" stroke="none" stroke-width="1"/>
<polygon points="170.5,635.45 168.6,638.87 172.4,638.87" fill="#66a342" stroke="none" stroke-width="1"/>
<line x1="177.7" y1="637.6" x2="177.7" y2="656.3" stroke="#a3163f" stroke-width="1.1"/>
<line x1="175.1" y1="637.6" x2="180.3" y2="637.6" stroke="#a3163f" stroke-width="1.1"/>
<line x1="175.1" y1="656.3" x2="180.3" y2="656.3" stroke="#a3163f" stroke-width="1.1"/>
<line x1="174.2" y1="646.4" x2="181.2" y2="646.4" stroke="#a3163f" stroke-width="1.3"/>
<rect x="176" y="636.8" width="3.4" height="3.4" fill="#fff" stroke="#a3163f" stroke-width="1"/>
<rect x="176" y="643.8" width="3.4" height="3.4" fill="#fff" stroke="#a3163f" stroke-width="1"/>
<rect x="176" y="649.8" width="3.4" height="3.4" fill="#fff" stroke="#a3163f" stroke-width="1"/>
<rect x="176" y="653.3" width="3.4" height="3.4" fill="#fff" stroke="#a3163f" stroke-width="1"/>
<line x1="188.7" y1="620" x2="188.7" y2="635" stroke="#29426f" stroke-width="1.1"/>
<line x1="186.1" y1="620" x2="191.3" y2="620" stroke="#29426f" stroke-width="1.1"/>
<line x1="186.1" y1="635" x2="191.3" y2="635" stroke="#29426f" stroke-width="1.1"/>
<line x1="185.2" y1="627.8" x2="192.2" y2="627.8" stroke="#29426f" stroke-width="1.3"/>
<circle cx="186.7" cy="621.5" r="1.8" fill="#29426f" stroke="none" stroke-width="1"/>
<circle cx="190.7" cy="623" r="1.8" fill="#29426f" stroke="none" stroke-width="1"/>
<circle cx="188.7" cy="626.5" r="1.8" fill="#29426f" stroke="none" stroke-width="1"/>
<circle cx="186.2" cy="629" r="1.8" fill="#29426f" stroke="none" stroke-width="1"/>
<circle cx="191.2" cy="630" r="1.8" fill="#29426f" stroke="none" stroke-width="1"/>
<circle cx="188.7" cy="633.5" r="1.8" fill="#29426f" stroke="none" stroke-width="1"/>
<line x1="196" y1="626.5" x2="196" y2="636.5" stroke="#7a9a5a" stroke-width="1.1"/>
<line x1="193.4" y1="626.5" x2="198.6" y2="626.5" stroke="#7a9a5a" stroke-width="1.1"/>
<line x1="193.4" y1="636.5" x2="198.6" y2="636.5" stroke="#7a9a5a" stroke-width="1.1"/>
<line x1="193" y1="630.7" x2="199" y2="630.7" stroke="#7a9a5a" stroke-width="1.3"/>
<polygon points="196,626.45 194.1,629.87 197.9,629.87" fill="#66a342" stroke="none" stroke-width="1"/>
<polygon points="196,630.95 194.1,634.37 197.9,634.37" fill="#66a342" stroke="none" stroke-width="1"/>
<line x1="203.3" y1="627.5" x2="203.3" y2="646" stroke="#a3163f" stroke-width="1.1"/>
<line x1="200.7" y1="627.5" x2="205.9" y2="627.5" stroke="#a3163f" stroke-width="1.1"/>
<line x1="200.7" y1="646" x2="205.9" y2="646" stroke="#a3163f" stroke-width="1.1"/>
<line x1="199.8" y1="632.7" x2="206.8" y2="632.7" stroke="#a3163f" stroke-width="1.3"/>
<rect x="201.6" y="626.8" width="3.4" height="3.4" fill="#fff" stroke="#a3163f" stroke-width="1"/>
<rect x="201.6" y="630.3" width="3.4" height="3.4" fill="#fff" stroke="#a3163f" stroke-width="1"/>
<rect x="201.6" y="634.3" width="3.4" height="3.4" fill="#fff" stroke="#a3163f" stroke-width="1"/>
<rect x="201.6" y="643.3" width="3.4" height="3.4" fill="#fff" stroke="#a3163f" stroke-width="1"/>
<line x1="213.7" y1="625.5" x2="213.7" y2="634.5" stroke="#29426f" stroke-width="1.1"/>
<line x1="211.1" y1="625.5" x2="216.3" y2="625.5" stroke="#29426f" stroke-width="1.1"/>
<line x1="211.1" y1="634.5" x2="216.3" y2="634.5" stroke="#29426f" stroke-width="1.1"/>
<line x1="210.7" y1="629.7" x2="216.7" y2="629.7" stroke="#29426f" stroke-width="1.3"/>
<circle cx="211.7" cy="627.5" r="1.8" fill="#29426f" stroke="none" stroke-width="1"/>
<circle cx="213.7" cy="629.5" r="1.8" fill="#29426f" stroke="none" stroke-width="1"/>
<circle cx="215.7" cy="631.5" r="1.8" fill="#29426f" stroke="none" stroke-width="1"/>
<circle cx="213.7" cy="633.5" r="1.8" fill="#29426f" stroke="none" stroke-width="1"/>
<circle cx="211.7" cy="632.5" r="1.8" fill="#29426f" stroke="none" stroke-width="1"/>
<line x1="222.1" y1="616" x2="222.1" y2="634" stroke="#7a9a5a" stroke-width="1.1"/>
<line x1="219.5" y1="616" x2="224.7" y2="616" stroke="#7a9a5a" stroke-width="1.1"/>
<line x1="219.5" y1="634" x2="224.7" y2="634" stroke="#7a9a5a" stroke-width="1.1"/>
<line x1="219.1" y1="622.9" x2="225.1" y2="622.9" stroke="#7a9a5a" stroke-width="1.3"/>
<polygon points="222.1,615.45 220.2,618.87 224,618.87" fill="#66a342" stroke="none" stroke-width="1"/>
<polygon points="222.1,621.95 220.2,625.37 224,625.37" fill="#66a342" stroke="none" stroke-width="1"/>
<polygon points="222.1,628.95 220.2,632.37 224,632.37" fill="#66a342" stroke="none" stroke-width="1"/>
<line x1="229.4" y1="631" x2="229.4" y2="638.5" stroke="#a3163f" stroke-width="1.1"/>
<line x1="226.8" y1="631" x2="232" y2="631" stroke="#a3163f" stroke-width="1.1"/>
<line x1="226.8" y1="638.5" x2="232" y2="638.5" stroke="#a3163f" stroke-width="1.1"/>
<line x1="225.4" y1="634.7" x2="233.4" y2="634.7" stroke="#a3163f" stroke-width="1.3"/>
<rect x="225.7" y="630.8" width="3.4" height="3.4" fill="#fff" stroke="#a3163f" stroke-width="1"/>
<rect x="228.7" y="629.3" width="3.4" height="3.4" fill="#fff" stroke="#a3163f" stroke-width="1"/>
<rect x="229.7" y="633.8" width="3.4" height="3.4" fill="#fff" stroke="#a3163f" stroke-width="1"/>
<rect x="226.7" y="635.3" width="3.4" height="3.4" fill="#fff" stroke="#a3163f" stroke-width="1"/>
<rect x="227.7" y="632.3" width="3.4" height="3.4" fill="#fff" stroke="#a3163f" stroke-width="1"/>
<line x1="262.5" y1="583.7" x2="262.5" y2="657.99" stroke="#111111" stroke-width="1.5"/>
<line x1="259.5" y1="585.5" x2="262.5" y2="585.5" stroke="#111111" stroke-width="1.5"/>
<text x="254.9" y="588.85" font-size="8.2" text-anchor="end">100</text>
<line x1="259.5" y1="609.5" x2="262.5" y2="609.5" stroke="#111111" stroke-width="1.5"/>
<text x="254.9" y="612.68" font-size="8.2" text-anchor="end">10</text>
<line x1="259.5" y1="633.5" x2="262.5" y2="633.5" stroke="#111111" stroke-width="1.5"/>
<text x="254.9" y="636.51" font-size="8.2" text-anchor="end">1</text>
<line x1="259.5" y1="657.5" x2="262.5" y2="657.5" stroke="#111111" stroke-width="1.5"/>
<text x="254.9" y="660.34" font-size="8.2" text-anchor="end">0.1</text>
<line x1="260.7" y1="602.56" x2="262.5" y2="602.56" stroke="#111111" stroke-width="0.8"/>
<line x1="260.7" y1="598.36" x2="262.5" y2="598.36" stroke="#111111" stroke-width="0.8"/>
<line x1="260.7" y1="595.38" x2="262.5" y2="595.38" stroke="#111111" stroke-width="0.8"/>
<line x1="260.7" y1="593.07" x2="262.5" y2="593.07" stroke="#111111" stroke-width="0.8"/>
<line x1="260.7" y1="591.19" x2="262.5" y2="591.19" stroke="#111111" stroke-width="0.8"/>
<line x1="260.7" y1="589.59" x2="262.5" y2="589.59" stroke="#111111" stroke-width="0.8"/>
<line x1="260.7" y1="588.21" x2="262.5" y2="588.21" stroke="#111111" stroke-width="0.8"/>
<line x1="260.7" y1="586.99" x2="262.5" y2="586.99" stroke="#111111" stroke-width="0.8"/>
<line x1="260.7" y1="626.39" x2="262.5" y2="626.39" stroke="#111111" stroke-width="0.8"/>
<line x1="260.7" y1="622.19" x2="262.5" y2="622.19" stroke="#111111" stroke-width="0.8"/>
<line x1="260.7" y1="619.21" x2="262.5" y2="619.21" stroke="#111111" stroke-width="0.8"/>
<line x1="260.7" y1="616.9" x2="262.5" y2="616.9" stroke="#111111" stroke-width="0.8"/>
<line x1="260.7" y1="615.02" x2="262.5" y2="615.02" stroke="#111111" stroke-width="0.8"/>
<line x1="260.7" y1="613.42" x2="262.5" y2="613.42" stroke="#111111" stroke-width="0.8"/>
<line x1="260.7" y1="612.04" x2="262.5" y2="612.04" stroke="#111111" stroke-width="0.8"/>
<line x1="260.7" y1="610.82" x2="262.5" y2="610.82" stroke="#111111" stroke-width="0.8"/>
<line x1="260.7" y1="650.22" x2="262.5" y2="650.22" stroke="#111111" stroke-width="0.8"/>
<line x1="260.7" y1="646.02" x2="262.5" y2="646.02" stroke="#111111" stroke-width="0.8"/>
<line x1="260.7" y1="643.04" x2="262.5" y2="643.04" stroke="#111111" stroke-width="0.8"/>
<line x1="260.7" y1="640.73" x2="262.5" y2="640.73" stroke="#111111" stroke-width="0.8"/>
<line x1="260.7" y1="638.85" x2="262.5" y2="638.85" stroke="#111111" stroke-width="0.8"/>
<line x1="260.7" y1="637.25" x2="262.5" y2="637.25" stroke="#111111" stroke-width="0.8"/>
<line x1="260.7" y1="635.87" x2="262.5" y2="635.87" stroke="#111111" stroke-width="0.8"/>
<line x1="260.7" y1="634.65" x2="262.5" y2="634.65" stroke="#111111" stroke-width="0.8"/>
<line x1="261.4" y1="657.5" x2="343.6" y2="657.5" stroke="#111111" stroke-width="1.5"/>
<line x1="277.5" y1="657.5" x2="277.5" y2="660.5" stroke="#111111" stroke-width="1.5"/>
<line x1="304.5" y1="657.5" x2="304.5" y2="660.5" stroke="#111111" stroke-width="1.5"/>
<line x1="330.5" y1="657.5" x2="330.5" y2="660.5" stroke="#111111" stroke-width="1.5"/>
<text x="277.6" y="671" font-size="8.4" text-anchor="middle" textLength="18.7" lengthAdjust="spacingAndGlyphs">CMP</text>
<text x="304.1" y="671" font-size="8.4" text-anchor="middle" textLength="18.7" lengthAdjust="spacingAndGlyphs">GMP</text>
<text x="331" y="671" font-size="8.4" text-anchor="middle" textLength="18.7" lengthAdjust="spacingAndGlyphs">MEP</text>
<path d="M270.8,595.5 V593.6 H278 V600" stroke="#000" stroke-width="1.3" fill="none"/>
<circle cx="274.5" cy="588" r="1.05" fill="#1a1a1a" stroke="none" stroke-width="1"/>
<path d="M296.4,598 V592.5 H312.5 V602.3" stroke="#000" stroke-width="1.3" fill="none"/>
<path d="M296.4,598 H304.5 V604" stroke="#000" stroke-width="1.3" fill="none"/>
<circle cx="304.3" cy="588.4" r="1.05" fill="#1a1a1a" stroke="none" stroke-width="1"/>
<circle cx="300.5" cy="595.1" r="1.05" fill="#1a1a1a" stroke="none" stroke-width="1"/>
<text x="330.3" y="590" font-size="8.2" text-anchor="middle" textLength="20" lengthAdjust="spacingAndGlyphs"><tspan font-style="italic">p</tspan>=0.1</text>
<path d="M323.5,598.1 V592.6 H338.8 V605.9" stroke="#000" stroke-width="1.3" fill="none"/>
<path d="M323.5,598.1 H330.7 V603.8" stroke="#000" stroke-width="1.3" fill="none"/>
<circle cx="327.2" cy="595.4" r="1.05" fill="#1a1a1a" stroke="none" stroke-width="1"/>
<line x1="270.3" y1="614" x2="270.3" y2="628.8" stroke="#29426f" stroke-width="1.1"/>
<line x1="267.7" y1="614" x2="272.9" y2="614" stroke="#29426f" stroke-width="1.1"/>
<line x1="267.7" y1="628.8" x2="272.9" y2="628.8" stroke="#29426f" stroke-width="1.1"/>
<line x1="267.3" y1="620.9" x2="273.3" y2="620.9" stroke="#29426f" stroke-width="1.3"/>
<circle cx="270.3" cy="614.5" r="1.8" fill="#29426f" stroke="none" stroke-width="1"/>
<circle cx="270.3" cy="617.5" r="1.8" fill="#29426f" stroke="none" stroke-width="1"/>
<circle cx="270.3" cy="621" r="1.8" fill="#29426f" stroke="none" stroke-width="1"/>
<circle cx="270.3" cy="624.5" r="1.8" fill="#29426f" stroke="none" stroke-width="1"/>
<circle cx="268.3" cy="627.5" r="1.8" fill="#29426f" stroke="none" stroke-width="1"/>
<circle cx="272.3" cy="628.5" r="1.8" fill="#29426f" stroke="none" stroke-width="1"/>
<line x1="277.6" y1="629" x2="277.6" y2="635" stroke="#66a342" stroke-width="1.2"/>
<polygon points="277.6,627.75 275.7,631.17 279.5,631.17" fill="#66a342" stroke="none" stroke-width="1"/>
<polygon points="277.6,632.15 275.7,635.57 279.5,635.57" fill="#66a342" stroke="none" stroke-width="1"/>
<line x1="285.4" y1="617" x2="285.4" y2="636" stroke="#a3163f" stroke-width="1.1"/>
<line x1="282.8" y1="617" x2="288" y2="617" stroke="#a3163f" stroke-width="1.1"/>
<line x1="282.8" y1="636" x2="288" y2="636" stroke="#a3163f" stroke-width="1.1"/>
<line x1="281.9" y1="624.8" x2="288.9" y2="624.8" stroke="#a3163f" stroke-width="1.3"/>
<rect x="281.7" y="615.8" width="3.4" height="3.4" fill="#fff" stroke="#a3163f" stroke-width="1"/>
<rect x="285.7" y="617.3" width="3.4" height="3.4" fill="#fff" stroke="#a3163f" stroke-width="1"/>
<rect x="283.7" y="622.3" width="3.4" height="3.4" fill="#fff" stroke="#a3163f" stroke-width="1"/>
<rect x="283.7" y="627.8" width="3.4" height="3.4" fill="#fff" stroke="#a3163f" stroke-width="1"/>
<rect x="283.7" y="631.3" width="3.4" height="3.4" fill="#fff" stroke="#a3163f" stroke-width="1"/>
<line x1="296.4" y1="603" x2="296.4" y2="618" stroke="#29426f" stroke-width="1.1"/>
<line x1="293.8" y1="603" x2="299" y2="603" stroke="#29426f" stroke-width="1.1"/>
<line x1="293.8" y1="618" x2="299" y2="618" stroke="#29426f" stroke-width="1.1"/>
<line x1="293.4" y1="610.7" x2="299.4" y2="610.7" stroke="#29426f" stroke-width="1.3"/>
<circle cx="298.4" cy="604" r="1.8" fill="#29426f" stroke="none" stroke-width="1"/>
<circle cx="294.4" cy="607.5" r="1.8" fill="#29426f" stroke="none" stroke-width="1"/>
<circle cx="296.4" cy="610.5" r="1.8" fill="#29426f" stroke="none" stroke-width="1"/>
<circle cx="298.9" cy="612.5" r="1.8" fill="#29426f" stroke="none" stroke-width="1"/>
<circle cx="294.9" cy="615" r="1.8" fill="#29426f" stroke="none" stroke-width="1"/>
<circle cx="297.4" cy="617.5" r="1.8" fill="#29426f" stroke="none" stroke-width="1"/>
<line x1="304.3" y1="617" x2="304.3" y2="632" stroke="#7a9a5a" stroke-width="1.1"/>
<line x1="301.7" y1="617" x2="306.9" y2="617" stroke="#7a9a5a" stroke-width="1.1"/>
<line x1="301.7" y1="632" x2="306.9" y2="632" stroke="#7a9a5a" stroke-width="1.1"/>
<line x1="301.3" y1="623.9" x2="307.3" y2="623.9" stroke="#7a9a5a" stroke-width="1.3"/>
<polygon points="304.3,615.95 302.4,619.37 306.2,619.37" fill="#66a342" stroke="none" stroke-width="1"/>
<polygon points="304.3,623.95 302.4,627.37 306.2,627.37" fill="#66a342" stroke="none" stroke-width="1"/>
<line x1="312.5" y1="609" x2="312.5" y2="630" stroke="#a3163f" stroke-width="1.1"/>
<line x1="309.9" y1="609" x2="315.1" y2="609" stroke="#a3163f" stroke-width="1.1"/>
<line x1="309.9" y1="630" x2="315.1" y2="630" stroke="#a3163f" stroke-width="1.1"/>
<line x1="308.5" y1="620.9" x2="316.5" y2="620.9" stroke="#a3163f" stroke-width="1.3"/>
<rect x="308.8" y="607.8" width="3.4" height="3.4" fill="#fff" stroke="#a3163f" stroke-width="1"/>
<rect x="312.8" y="608.8" width="3.4" height="3.4" fill="#fff" stroke="#a3163f" stroke-width="1"/>
<rect x="310.8" y="613.8" width="3.4" height="3.4" fill="#fff" stroke="#a3163f" stroke-width="1"/>
<rect x="308.8" y="617.8" width="3.4" height="3.4" fill="#fff" stroke="#a3163f" stroke-width="1"/>
<rect x="312.8" y="620.3" width="3.4" height="3.4" fill="#fff" stroke="#a3163f" stroke-width="1"/>
<rect x="310.8" y="623.3" width="3.4" height="3.4" fill="#fff" stroke="#a3163f" stroke-width="1"/>
<rect x="310.8" y="626.8" width="3.4" height="3.4" fill="#fff" stroke="#a3163f" stroke-width="1"/>
<line x1="323.6" y1="607.2" x2="323.6" y2="625.8" stroke="#29426f" stroke-width="1.1"/>
<line x1="321" y1="607.2" x2="326.2" y2="607.2" stroke="#29426f" stroke-width="1.1"/>
<line x1="321" y1="625.8" x2="326.2" y2="625.8" stroke="#29426f" stroke-width="1.1"/>
<line x1="320.6" y1="615" x2="326.6" y2="615" stroke="#29426f" stroke-width="1.3"/>
<circle cx="323.6" cy="607.5" r="1.8" fill="#29426f" stroke="none" stroke-width="1"/>
<circle cx="323.6" cy="612" r="1.8" fill="#29426f" stroke="none" stroke-width="1"/>
<circle cx="321.6" cy="615.5" r="1.8" fill="#29426f" stroke="none" stroke-width="1"/>
<circle cx="325.6" cy="617" r="1.8" fill="#29426f" stroke="none" stroke-width="1"/>
<circle cx="323.6" cy="620.5" r="1.8" fill="#29426f" stroke="none" stroke-width="1"/>
<circle cx="323.6" cy="624.5" r="1.8" fill="#29426f" stroke="none" stroke-width="1"/>
<line x1="330.5" y1="619.5" x2="330.5" y2="626.5" stroke="#7a9a5a" stroke-width="1.1"/>
<line x1="327.9" y1="619.5" x2="333.1" y2="619.5" stroke="#7a9a5a" stroke-width="1.1"/>
<line x1="327.9" y1="626.5" x2="333.1" y2="626.5" stroke="#7a9a5a" stroke-width="1.1"/>
<line x1="328" y1="622.9" x2="333" y2="622.9" stroke="#7a9a5a" stroke-width="1.3"/>
<polygon points="329,619.45 327.1,622.87 330.9,622.87" fill="#66a342" stroke="none" stroke-width="1"/>
<polygon points="332,620.95 330.1,624.37 333.9,624.37" fill="#66a342" stroke="none" stroke-width="1"/>
<polygon points="330.5,622.95 328.6,626.37 332.4,626.37" fill="#66a342" stroke="none" stroke-width="1"/>
<line x1="338.3" y1="616" x2="338.3" y2="644.5" stroke="#a3163f" stroke-width="1.1"/>
<line x1="335.7" y1="616" x2="340.9" y2="616" stroke="#a3163f" stroke-width="1.1"/>
<line x1="335.7" y1="644.5" x2="340.9" y2="644.5" stroke="#a3163f" stroke-width="1.1"/>
<line x1="334.3" y1="629.7" x2="342.3" y2="629.7" stroke="#a3163f" stroke-width="1.3"/>
<rect x="336.6" y="615.3" width="3.4" height="3.4" fill="#fff" stroke="#a3163f" stroke-width="1"/>
<rect x="334.6" y="621.8" width="3.4" height="3.4" fill="#fff" stroke="#a3163f" stroke-width="1"/>
<rect x="338.6" y="624.3" width="3.4" height="3.4" fill="#fff" stroke="#a3163f" stroke-width="1"/>
<rect x="336.6" y="627.8" width="3.4" height="3.4" fill="#fff" stroke="#a3163f" stroke-width="1"/>
<rect x="334.6" y="631.3" width="3.4" height="3.4" fill="#fff" stroke="#a3163f" stroke-width="1"/>
<rect x="338.6" y="633.3" width="3.4" height="3.4" fill="#fff" stroke="#a3163f" stroke-width="1"/>
<rect x="336.6" y="636.3" width="3.4" height="3.4" fill="#fff" stroke="#a3163f" stroke-width="1"/>
<circle cx="355" cy="608.1" r="1.6" fill="#29426f" stroke="none" stroke-width="1"/>
<text x="359.9" y="611" font-size="8.4" fill="#29426f" textLength="23.2" lengthAdjust="spacingAndGlyphs">Ren 1°</text>
<polygon points="355,615.27 353.4,618.15 356.6,618.15" fill="#66a342" stroke="none" stroke-width="1"/>
<text x="359.9" y="618.8" font-size="8.4" fill="#66a342" textLength="37.4" lengthAdjust="spacingAndGlyphs">Cux1<tspan font-size="5.8" dy="-3.2">mid</tspan><tspan dy="3.2"> 1°</tspan></text>
<rect x="353.5" y="624.3" width="3" height="3" fill="#fff" stroke="#a3163f" stroke-width="0.9"/>
<text x="359.9" y="628.3" font-size="8.4" fill="#a3163f" textLength="36.3" lengthAdjust="spacingAndGlyphs">Cux1<tspan font-size="5.8" dy="-3.2">low</tspan><tspan dy="3.2"> 1°</tspan></text>
</svg>
</body></html>
